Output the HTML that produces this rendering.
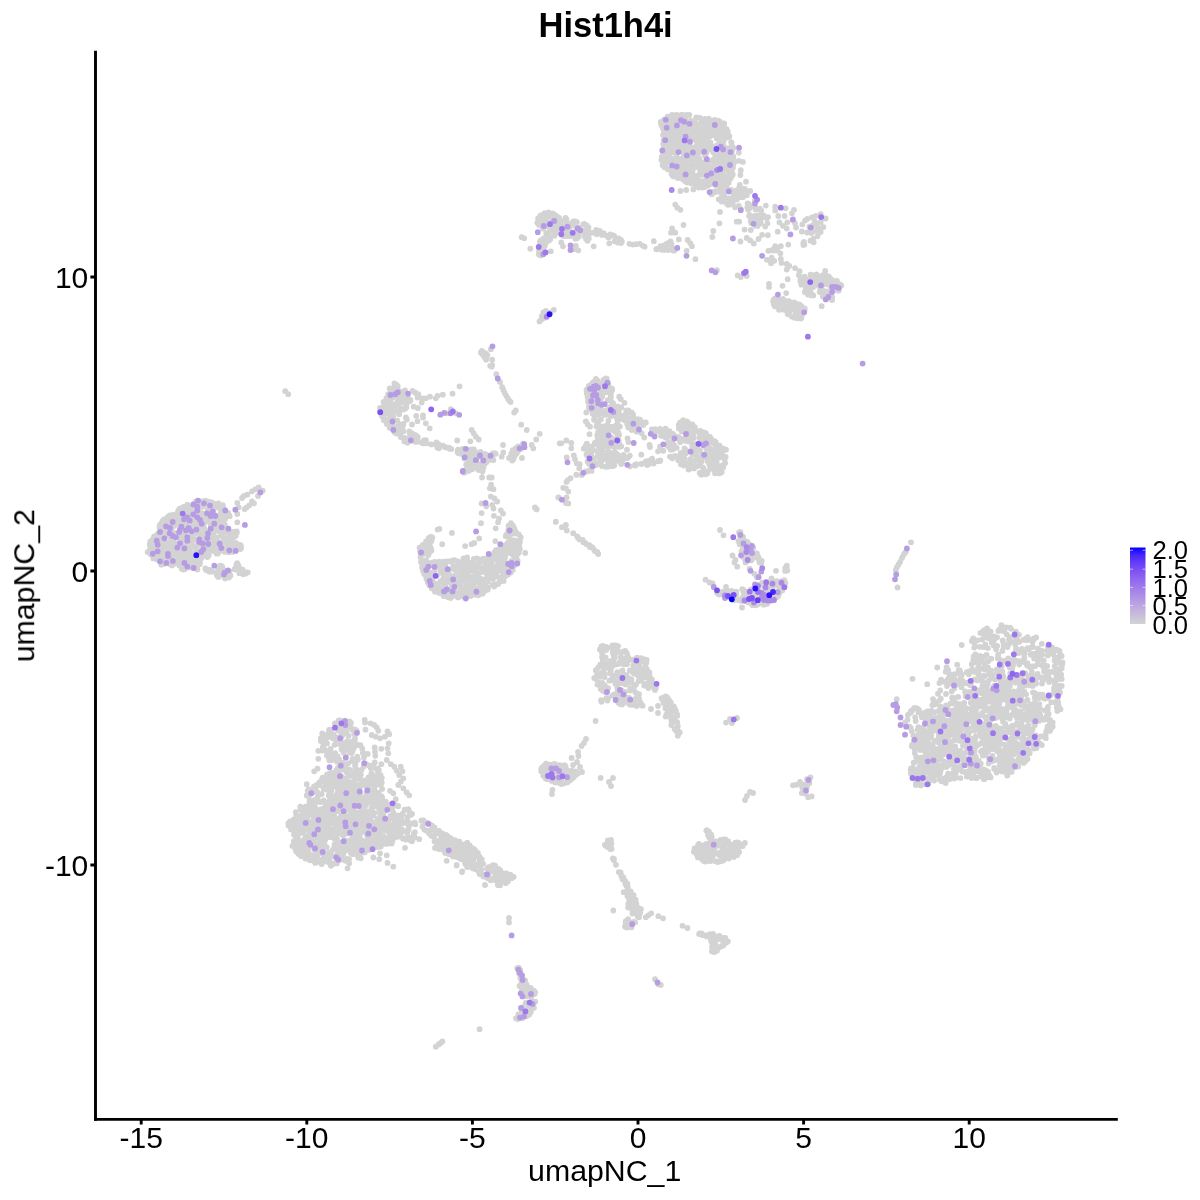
<!DOCTYPE html>
<html><head><meta charset="utf-8"><title>Hist1h4i</title>
<style>
html,body{margin:0;padding:0;background:#fff;}
body{width:1200px;height:1200px;overflow:hidden;font-family:"Liberation Sans",sans-serif;}
svg{display:block}
text{font-family:"Liberation Sans",sans-serif;fill:#000}
</style></head><body>
<svg width="1200" height="1200" viewBox="0 0 1200 1200">
<rect width="1200" height="1200" fill="#fff"/>
<defs><linearGradient id="cb" x1="0" y1="1" x2="0" y2="0">
<stop offset="0" stop-color="#D3D3D3"/><stop offset="0.1" stop-color="#CAC0D9"/><stop offset="0.2" stop-color="#C1AEDE"/><stop offset="0.3" stop-color="#B69CE3"/><stop offset="0.4" stop-color="#AA89E7"/><stop offset="0.5" stop-color="#9D77EC"/><stop offset="0.6" stop-color="#8E65F0"/><stop offset="0.7" stop-color="#7C51F4"/><stop offset="0.8" stop-color="#673DF8"/><stop offset="0.9" stop-color="#4926FB"/><stop offset="1" stop-color="#0000FF"/>
</linearGradient></defs>
<g fill="none" stroke-width="5.8" stroke-linecap="round">
<path d="M683.8 124.5h.01M700.4 141.6h.01M663.1 152.9h.01M664.0 119.7h.01M691.7 178.3h.01M668.2 130.3h.01M703.6 144.1h.01M725.6 135.5h.01M669.8 121.9h.01M682.6 177.5h.01M672.7 158.8h.01M708.5 142.1h.01M663.2 128.9h.01M711.7 146.5h.01M683.1 159.1h.01M693.9 136.4h.01M720.6 168.1h.01M677.6 158.2h.01M699.6 182.1h.01M715.5 135.4h.01M691.2 172.8h.01M670.4 151.4h.01M718.3 158.1h.01M726.9 137.5h.01M712.9 159.8h.01M703.8 148.8h.01M724.2 187.7h.01M695.6 165.4h.01M722.8 135.1h.01M688.7 165.7h.01M671.7 121.8h.01M668.6 132.2h.01M689.1 181.9h.01M664.8 148.2h.01M701.5 182.8h.01M722.5 181.3h.01M680.3 145.6h.01M672.3 131.0h.01M676.8 151.1h.01M704.6 133.4h.01M687.4 157.6h.01M733.0 167.5h.01M698.8 161.7h.01M728.8 174.6h.01M726.9 176.0h.01M689.2 144.3h.01M666.6 163.0h.01M674.9 125.4h.01M685.1 116.7h.01M666.5 141.4h.01M706.5 124.3h.01M678.2 140.1h.01M687.0 122.3h.01M694.9 151.0h.01M665.3 120.6h.01M685.3 133.6h.01M723.3 125.3h.01M699.8 124.2h.01M726.0 167.9h.01M678.9 141.7h.01M671.6 173.9h.01M700.2 174.5h.01M684.3 130.3h.01M725.2 176.7h.01M722.5 171.4h.01M676.3 153.7h.01M686.3 114.8h.01M678.8 167.6h.01M733.3 148.1h.01M675.8 130.6h.01M673.9 128.8h.01M707.3 184.1h.01M724.2 150.7h.01M709.6 176.1h.01M665.2 165.1h.01M717.1 150.5h.01M672.5 175.3h.01M684.5 176.2h.01M715.2 126.0h.01M668.5 124.5h.01M729.2 176.7h.01M685.9 156.2h.01M699.7 186.8h.01M692.4 181.9h.01M723.1 129.3h.01M678.2 135.8h.01M678.8 145.8h.01M686.2 149.0h.01M704.1 184.5h.01M697.7 154.8h.01M692.9 127.1h.01M672.0 150.2h.01M715.2 156.8h.01M684.0 153.8h.01M701.9 174.9h.01M666.8 157.1h.01M718.9 152.9h.01M702.4 173.0h.01M729.8 147.8h.01M706.4 152.7h.01M698.6 167.6h.01M693.9 154.9h.01M713.2 182.3h.01M702.3 187.6h.01M724.2 123.4h.01M668.0 147.7h.01M664.2 131.7h.01M719.8 183.9h.01M670.6 169.5h.01M710.1 123.9h.01M689.7 151.3h.01M671.2 146.8h.01M698.8 139.5h.01M673.8 137.8h.01M701.8 147.6h.01M666.7 133.6h.01M679.7 122.8h.01M722.5 133.1h.01M703.1 168.2h.01M708.1 176.3h.01M694.0 139.5h.01M699.7 131.5h.01M667.1 125.3h.01M682.9 136.8h.01M717.9 135.6h.01M697.6 126.7h.01M722.5 146.9h.01M697.2 178.9h.01M689.3 152.8h.01M685.3 178.7h.01M713.8 163.1h.01M690.2 140.2h.01M662.8 122.8h.01M678.5 125.5h.01M726.6 165.9h.01M680.6 131.8h.01M681.4 149.1h.01M682.7 140.9h.01M695.6 152.5h.01M674.2 152.7h.01M665.6 144.3h.01M682.3 131.0h.01M704.3 154.6h.01M717.2 164.8h.01M689.0 138.5h.01M715.1 163.7h.01M728.2 162.4h.01M715.9 177.1h.01M669.4 154.2h.01M721.4 178.3h.01M711.9 167.7h.01M676.5 115.0h.01M668.9 141.2h.01M702.2 162.5h.01M707.5 166.7h.01M720.9 172.0h.01M716.1 132.6h.01M664.4 133.6h.01M715.5 128.8h.01M697.1 142.9h.01M696.0 166.9h.01M718.5 161.6h.01M708.8 118.7h.01M670.1 132.7h.01M716.6 136.7h.01M711.3 135.6h.01M698.9 149.5h.01M695.0 121.9h.01M693.7 133.9h.01M675.0 158.8h.01M722.6 153.0h.01M727.8 168.5h.01M669.5 139.9h.01M683.2 179.4h.01M730.9 169.2h.01M729.0 135.6h.01M687.6 143.8h.01M686.7 146.6h.01M680.0 116.3h.01M678.0 133.6h.01M732.0 156.2h.01M715.8 148.4h.01M695.4 139.8h.01M681.8 171.3h.01M709.8 136.4h.01M702.1 143.9h.01M671.6 125.4h.01M697.4 130.0h.01M693.7 123.6h.01M673.6 119.7h.01M685.3 119.7h.01M703.0 183.1h.01M717.1 145.4h.01M690.9 154.2h.01M726.0 129.7h.01M689.8 148.0h.01M728.5 150.2h.01M709.1 173.4h.01M694.3 156.4h.01M708.3 168.1h.01M667.3 118.1h.01M699.5 158.9h.01M688.9 130.3h.01M733.5 163.8h.01M676.9 132.2h.01M697.5 166.2h.01M691.4 133.0h.01M685.0 146.0h.01M711.9 128.3h.01M722.6 130.9h.01M675.8 173.0h.01M676.0 145.7h.01M670.0 143.8h.01M669.6 116.6h.01M663.2 143.8h.01M728.7 182.8h.01M710.5 142.6h.01M680.4 140.5h.01M673.6 141.5h.01M690.6 177.1h.01M716.9 184.0h.01M733.4 161.6h.01M679.0 169.5h.01M683.3 134.4h.01M730.1 163.0h.01M688.7 132.5h.01M692.1 151.8h.01M722.8 174.0h.01M706.0 138.6h.01M674.0 172.4h.01M677.9 117.7h.01M679.2 119.2h.01M666.1 152.2h.01M714.0 148.1h.01M717.0 179.9h.01M710.4 122.1h.01M724.2 135.9h.01M702.8 142.2h.01M703.7 138.5h.01M721.7 164.5h.01M695.6 177.7h.01M724.2 185.3h.01M667.9 127.6h.01M731.2 142.1h.01M726.2 148.2h.01M678.9 174.4h.01M705.1 161.8h.01M675.5 141.8h.01M669.6 128.7h.01M678.5 160.2h.01M709.5 128.7h.01M682.9 128.7h.01M720.7 156.1h.01M689.4 156.3h.01M671.3 167.8h.01M690.6 135.0h.01M682.9 157.6h.01M687.0 128.2h.01M690.3 182.8h.01M694.5 125.4h.01M708.6 184.9h.01M665.5 162.0h.01M687.5 152.6h.01M669.9 135.0h.01M674.0 122.6h.01M719.9 130.2h.01M690.1 179.9h.01M723.3 127.1h.01M675.6 144.3h.01M699.0 143.0h.01M715.2 183.9h.01M661.8 157.3h.01M705.4 156.3h.01M707.5 136.9h.01M691.4 158.9h.01M691.8 164.9h.01M693.4 147.4h.01M718.2 174.6h.01M715.8 174.4h.01M720.1 186.6h.01M663.7 140.4h.01M717.6 125.1h.01M722.3 123.9h.01M697.8 185.7h.01M674.8 133.4h.01M698.1 137.9h.01M711.6 183.8h.01M667.5 154.7h.01M726.7 156.7h.01M707.7 143.9h.01M720.9 133.6h.01M686.7 173.4h.01M704.3 165.3h.01M661.2 124.4h.01M706.7 146.9h.01M698.6 183.8h.01M704.6 128.7h.01M707.3 150.3h.01M677.6 124.4h.01M689.9 133.5h.01M702.5 140.4h.01M709.0 147.8h.01M731.8 170.9h.01M690.3 131.4h.01M674.1 160.9h.01M698.1 163.6h.01M719.7 169.4h.01M676.2 120.9h.01M684.8 172.2h.01M712.8 179.8h.01M714.1 133.7h.01M720.1 154.1h.01M679.3 163.6h.01M678.9 131.3h.01M716.8 138.5h.01M695.2 179.3h.01M692.7 170.2h.01M703.1 137.0h.01M675.1 162.1h.01M685.5 123.8h.01M713.0 171.1h.01M663.7 159.5h.01M686.9 177.6h.01M722.6 183.4h.01M666.9 128.9h.01M708.1 178.2h.01M707.9 135.4h.01M717.7 128.8h.01M683.5 146.2h.01M680.6 169.5h.01M687.3 138.0h.01M725.1 161.7h.01M692.6 174.0h.01M685.6 168.6h.01M700.6 129.7h.01M696.9 175.9h.01M673.0 151.9h.01M680.7 129.6h.01M713.2 152.2h.01M713.0 175.1h.01M707.6 140.8h.01M728.9 152.4h.01M676.8 149.2h.01M700.1 172.5h.01M685.8 138.5h.01M710.3 171.5h.01M668.4 149.3h.01M727.7 131.4h.01M677.9 138.5h.01M684.2 127.6h.01M666.5 143.1h.01M673.9 163.3h.01M688.9 115.2h.01M689.7 175.5h.01M669.6 160.5h.01M690.2 171.5h.01M725.1 166.6h.01M683.0 162.5h.01M666.2 145.9h.01M707.7 132.4h.01M691.6 148.7h.01M672.8 164.6h.01M719.3 143.4h.01M732.0 153.8h.01M700.8 169.6h.01M675.0 167.0h.01M689.2 173.2h.01M691.4 168.1h.01M676.1 171.5h.01M675.6 176.3h.01M721.8 163.0h.01M686.1 163.3h.01M701.4 122.5h.01M723.7 140.7h.01M725.0 133.8h.01M682.1 150.7h.01M692.0 163.2h.01M709.8 132.4h.01M666.5 123.9h.01M676.8 174.3h.01M706.1 174.7h.01M720.1 179.3h.01M701.9 133.5h.01M700.7 181.2h.01M710.5 179.4h.01M708.3 163.1h.01M698.4 151.1h.01M685.0 181.1h.01M687.1 150.3h.01M675.0 147.1h.01M691.5 156.6h.01M723.2 144.6h.01M697.9 134.1h.01M684.4 137.7h.01M730.5 160.9h.01M706.7 162.4h.01M710.7 148.9h.01M718.1 120.6h.01M672.7 115.4h.01M719.1 185.2h.01M661.6 122.0h.01M721.8 158.3h.01M704.8 187.1h.01M690.8 120.6h.01M714.7 131.8h.01M715.9 127.4h.01M714.3 180.6h.01M696.5 117.3h.01M692.8 166.4h.01M707.7 145.8h.01M732.4 174.9h.01M713.5 178.3h.01M684.5 160.7h.01M705.5 137.1h.01M688.0 167.0h.01M705.6 183.8h.01M703.2 134.3h.01M706.0 166.4h.01M694.9 128.9h.01M678.4 172.3h.01M720.4 149.1h.01M727.7 154.0h.01M695.8 159.4h.01M720.1 124.9h.01M705.2 140.0h.01M726.2 151.2h.01M719.4 146.4h.01M722.5 189.2h.01M678.4 115.5h.01M674.2 126.9h.01M705.3 144.1h.01M704.7 172.8h.01M666.8 138.3h.01M696.1 125.9h.01M726.3 183.2h.01M669.5 148.1h.01M675.9 117.0h.01M724.1 139.1h.01M710.8 129.3h.01M695.8 135.3h.01M678.7 128.5h.01M666.2 135.5h.01M721.6 139.6h.01M723.6 154.4h.01M673.1 147.1h.01M703.2 123.5h.01M714.1 128.2h.01M706.4 168.8h.01M674.3 117.7h.01M724.3 181.3h.01M726.7 133.7h.01M687.2 125.5h.01M687.5 159.8h.01M693.4 153.5h.01M668.0 169.4h.01M683.6 169.1h.01M678.1 177.5h.01M713.4 120.7h.01M726.5 169.6h.01M697.1 152.4h.01M690.2 123.4h.01M704.8 181.0h.01M670.0 158.1h.01M688.9 146.0h.01M719.2 139.4h.01M721.4 185.1h.01M700.0 118.0h.01M731.7 162.9h.01M708.7 133.7h.01M700.9 186.1h.01M699.2 147.0h.01M682.4 164.0h.01M667.9 159.8h.01M679.5 149.6h.01M668.2 123.0h.01M665.4 156.0h.01M703.1 164.3h.01M674.3 169.0h.01M725.9 131.5h.01M702.0 151.6h.01M681.6 173.9h.01M670.9 117.8h.01M686.1 166.2h.01M706.7 180.1h.01M716.3 171.7h.01M703.2 145.8h.01M719.8 182.0h.01M706.0 142.7h.01M693.9 148.9h.01M697.6 147.8h.01M660.8 122.0h.01M664.2 119.8h.01M667.6 116.6h.01M672.1 114.8h.01M675.9 115.5h.01M681.9 114.7h.01M685.7 115.9h.01M689.3 114.8h.01M696.1 117.6h.01M704.7 118.9h.01M708.9 119.7h.01M714.7 120.0h.01M719.5 121.4h.01M722.7 123.4h.01M724.0 125.0h.01M726.5 129.1h.01M727.7 131.4h.01M729.3 136.5h.01M731.5 142.7h.01M732.9 147.1h.01M732.3 149.9h.01M733.3 156.3h.01M733.3 159.5h.01M734.3 162.0h.01M731.9 169.6h.01M732.8 174.4h.01M730.8 178.3h.01M728.4 181.0h.01M726.7 187.6h.01M726.0 188.7h.01M722.0 188.1h.01M716.3 185.7h.01M707.7 185.7h.01M703.4 186.2h.01M698.7 187.6h.01M696.1 185.1h.01M691.4 183.5h.01M687.2 182.6h.01M682.7 179.1h.01M678.0 178.1h.01M673.9 176.6h.01M672.7 175.7h.01M667.9 169.0h.01M664.5 167.3h.01M662.6 165.2h.01M661.4 159.9h.01M661.9 156.7h.01M664.0 147.3h.01M664.1 140.4h.01M663.0 134.9h.01M662.0 126.3h.01M661.0 122.3h.01M717.9 191.5h.01M740.7 193.9h.01M733.4 195.0h.01M732.8 201.8h.01M759.9 208.7h.01M722.0 195.1h.01M735.3 206.9h.01M739.5 187.1h.01M738.0 195.0h.01M745.2 193.7h.01M713.7 191.6h.01M728.0 204.8h.01M736.4 190.4h.01M747.5 191.4h.01M742.1 189.9h.01M736.9 199.6h.01M729.8 202.9h.01M726.3 203.1h.01M728.5 198.3h.01M724.1 195.5h.01M757.3 208.9h.01M715.8 191.8h.01M731.3 203.0h.01M743.3 189.0h.01M749.1 204.5h.01M754.9 200.4h.01M732.6 203.7h.01M754.6 206.4h.01M746.9 195.2h.01M749.8 207.9h.01M743.2 197.0h.01M732.2 198.7h.01M747.3 207.3h.01M723.0 199.7h.01M738.6 191.0h.01M711.8 194.2h.01M747.6 203.3h.01M737.0 196.7h.01M738.8 205.9h.01M741.6 197.2h.01M711.9 191.9h.01M715.0 192.3h.01M723.5 191.9h.01M731.3 189.8h.01M742.0 189.6h.01M745.9 191.4h.01M755.5 198.6h.01M756.2 200.3h.01M759.8 209.0h.01M761.3 210.5h.01M755.7 209.5h.01M748.1 209.4h.01M740.8 209.2h.01M735.1 207.3h.01M730.0 204.6h.01M721.6 201.6h.01M718.7 199.3h.01M712.4 193.0h.01M711.5 194.2h.01M754.9 215.8h.01M766.9 217.9h.01M755.9 221.5h.01M755.9 225.9h.01M760.7 222.7h.01M758.9 220.7h.01M750.9 217.6h.01M763.6 215.5h.01M757.6 215.9h.01M753.9 223.3h.01M755.2 219.8h.01M760.6 218.4h.01M754.2 221.8h.01M762.6 217.6h.01M749.6 214.8h.01M759.0 215.2h.01M763.1 216.0h.01M768.0 217.1h.01M766.5 217.9h.01M759.8 223.7h.01M757.6 225.9h.01M751.3 223.0h.01M750.8 221.2h.01M749.1 216.0h.01M738.8 160.8h.01M742.9 161.9h.01M740.8 170.2h.01M740.4 175.0h.01M746.0 181.7h.01M739.8 184.8h.01M745.0 189.0h.01M750.2 191.0h.01M738.8 152.5h.01M680.4 191.0h.01M686.2 190.0h.01M693.3 189.4h.01M675.2 204.6h.01M677.3 207.7h.01M680.4 209.8h.01M683.5 225.0h.01M672.1 228.5h.01M671.0 232.7h.01M675.2 232.7h.01M720.0 211.9h.01M719.4 223.3h.01M713.3 231.0h.01M712.3 236.9h.01M736.7 221.7h.01M739.2 221.7h.01M744.6 229.6h.01M750.8 230.0h.01M746.7 237.9h.01M750.2 240.4h.01M753.8 243.5h.01M740.4 241.5h.01M758.5 239.0h.01M762.1 234.8h.01M767.9 235.2h.01M765.2 226.5h.01M767.5 223.3h.01M777.7 231.7h.01M765.8 205.6h.01M775.2 206.7h.01M775.2 210.4h.01M785.6 208.3h.01M794.0 209.8h.01M791.9 213.3h.01M778.3 216.0h.01M784.6 216.0h.01M779.4 222.3h.01M782.9 225.8h.01M786.7 228.5h.01M787.3 222.3h.01M795.0 223.3h.01M796.0 227.5h.01M792.9 220.2h.01M803.3 243.1h.01M804.4 244.6h.01M788.3 244.6h.01M780.8 246.2h.01M802.3 224.4h.01M805.0 220.6h.01M807.2 219.0h.01M812.0 217.4h.01M815.8 215.8h.01M820.7 214.1h.01M825.6 218.5h.01M823.4 227.1h.01M820.7 222.2h.01M816.9 223.3h.01M814.8 221.7h.01M818.0 227.7h.01M820.7 232.0h.01M815.8 230.9h.01M811.5 233.1h.01M807.2 232.5h.01M801.8 231.5h.01M817.5 236.3h.01M813.1 239.0h.01M810.4 240.7h.01M813.7 242.3h.01M803.9 241.8h.01M803.4 245.0h.01M809.3 226.6h.01M812.6 225.5h.01M768.3 250.8h.01M774.2 248.3h.01M777.3 250.4h.01M780.4 253.5h.01M780.8 258.8h.01M781.5 262.9h.01M786.7 264.0h.01M789.2 266.0h.01M795.0 268.1h.01M799.6 271.2h.01M798.8 275.0h.01M786.7 269.6h.01M771.7 257.7h.01M774.2 260.8h.01M771.0 263.3h.01M766.9 259.8h.01M774.2 250.4h.01M771.0 250.4h.01M775.2 246.2h.01M769.0 283.8h.01M769.0 286.9h.01M782.5 285.8h.01M786.2 293.1h.01M787.7 279.2h.01M821.7 306.2h.01M825.2 270.8h.01M822.3 279.9h.01M820.3 289.0h.01M807.8 289.6h.01M816.5 274.5h.01M823.2 293.9h.01M815.7 277.5h.01M808.3 283.5h.01M807.2 281.4h.01M830.7 285.2h.01M838.5 289.3h.01M813.3 295.4h.01M829.4 297.2h.01M802.9 283.6h.01M825.8 275.3h.01M823.2 296.5h.01M829.2 280.0h.01M806.3 285.8h.01M836.9 289.9h.01M805.9 289.0h.01M810.9 293.0h.01M813.3 276.9h.01M829.4 284.2h.01M819.7 277.1h.01M837.2 284.2h.01M838.6 290.7h.01M800.7 282.2h.01M805.1 283.2h.01M815.5 283.0h.01M810.1 287.4h.01M809.5 289.5h.01M827.2 291.5h.01M814.3 280.8h.01M811.5 295.4h.01M832.2 287.7h.01M827.3 282.9h.01M823.2 284.6h.01M820.0 283.4h.01M808.6 279.4h.01M818.6 285.8h.01M824.1 281.4h.01M811.4 281.6h.01M831.6 288.9h.01M804.9 280.4h.01M830.5 278.9h.01M825.7 298.4h.01M827.9 278.2h.01M827.9 284.5h.01M829.3 282.5h.01M813.0 287.2h.01M825.5 280.1h.01M826.2 294.2h.01M812.7 275.1h.01M804.5 276.6h.01M835.7 285.1h.01M822.7 290.1h.01M823.4 292.1h.01M825.7 282.3h.01M832.3 280.1h.01M830.9 295.3h.01M833.9 281.6h.01M818.6 280.7h.01M819.7 292.1h.01M833.9 283.2h.01M823.5 277.8h.01M832.1 300.1h.01M800.8 278.2h.01M810.5 274.6h.01M822.6 275.5h.01M828.9 276.6h.01M836.9 280.9h.01M839.9 284.4h.01M841.3 285.4h.01M837.8 290.6h.01M832.3 297.4h.01M831.5 299.6h.01M822.8 296.5h.01M811.8 295.0h.01M808.1 294.7h.01M804.8 292.0h.01M801.4 284.7h.01M800.3 280.4h.01M798.2 316.6h.01M780.6 303.8h.01M792.4 307.0h.01M773.7 299.6h.01M796.9 318.2h.01M788.9 301.2h.01M775.1 306.4h.01M783.3 308.1h.01M780.2 299.8h.01M785.3 309.7h.01M795.8 312.2h.01M790.4 309.5h.01M785.0 303.5h.01M784.5 305.2h.01M784.1 301.5h.01M777.4 298.2h.01M801.6 315.6h.01M796.0 303.7h.01M794.2 309.5h.01M802.0 308.5h.01M797.9 305.1h.01M789.7 311.2h.01M787.7 314.0h.01M789.6 307.6h.01M804.8 309.0h.01M787.3 311.9h.01M801.0 318.5h.01M775.8 301.8h.01M773.9 304.5h.01M800.1 308.8h.01M796.1 306.9h.01M782.2 301.5h.01M793.9 317.6h.01M777.6 306.2h.01M799.7 311.3h.01M786.6 304.8h.01M775.1 298.4h.01M776.7 298.1h.01M783.0 298.9h.01M786.9 301.1h.01M789.6 302.0h.01M794.2 302.5h.01M799.3 304.3h.01M801.2 305.8h.01M804.7 309.9h.01M804.6 308.3h.01M801.5 317.8h.01M799.6 318.3h.01M795.8 316.8h.01M791.6 316.4h.01M788.9 313.7h.01M782.7 309.6h.01M779.0 309.8h.01M774.8 305.9h.01M773.1 301.6h.01M621.0 240.0h.01M621.0 243.1h.01M629.4 243.8h.01M632.9 244.6h.01M636.2 244.2h.01M639.8 243.8h.01M642.9 245.8h.01M644.6 246.7h.01M653.8 241.2h.01M678.8 239.4h.01M687.7 240.0h.01M690.2 243.1h.01M691.9 246.2h.01M686.7 250.8h.01M695.4 259.2h.01M716.9 270.2h.01M737.7 275.4h.01M740.8 277.1h.01M746.7 276.0h.01M665.7 246.9h.01M663.4 246.0h.01M668.2 244.6h.01M666.9 245.6h.01M670.2 243.9h.01M661.8 249.7h.01M670.5 241.4h.01M672.6 248.1h.01M657.1 249.0h.01M660.6 246.2h.01M664.4 245.2h.01M667.2 243.4h.01M671.0 243.1h.01M671.5 244.2h.01M674.5 250.6h.01M672.9 250.5h.01M668.0 250.1h.01M663.8 249.9h.01M657.0 249.3h.01M656.3 249.2h.01M599.7 230.8h.01M560.3 226.8h.01M601.7 234.0h.01M588.0 236.1h.01M542.1 216.8h.01M564.1 231.7h.01M587.8 232.3h.01M542.9 241.3h.01M546.0 237.9h.01M565.9 228.1h.01M547.6 214.5h.01M578.8 235.9h.01M548.9 235.9h.01M579.8 227.7h.01M552.0 229.5h.01M552.5 216.1h.01M548.0 222.8h.01M552.0 220.6h.01M577.3 234.0h.01M542.5 244.7h.01M565.6 217.8h.01M621.1 242.5h.01M555.1 219.6h.01M575.4 221.4h.01M564.4 220.3h.01M542.1 223.1h.01M597.3 231.4h.01M545.0 243.0h.01M550.7 223.1h.01M569.7 234.2h.01M556.7 227.0h.01M611.8 234.8h.01M541.0 240.2h.01M539.3 250.3h.01M583.2 230.3h.01M559.1 217.8h.01M546.8 234.9h.01M561.0 228.5h.01M551.0 225.0h.01M543.9 222.6h.01M569.6 228.6h.01M608.6 237.4h.01M558.1 221.8h.01M544.2 224.8h.01M546.2 226.4h.01M558.7 220.3h.01M554.3 214.5h.01M546.7 223.3h.01M544.1 220.8h.01M607.0 236.0h.01M586.8 229.3h.01M570.4 223.7h.01M580.6 231.2h.01M539.8 219.9h.01M548.9 240.6h.01M538.1 218.5h.01M543.4 215.2h.01M545.7 215.3h.01M584.9 234.6h.01M553.0 222.2h.01M614.2 235.8h.01M540.6 225.6h.01M543.5 238.6h.01M545.5 219.7h.01M575.2 238.3h.01M576.5 229.3h.01M596.4 232.8h.01M554.8 229.0h.01M617.9 240.9h.01M543.7 248.0h.01M583.3 224.1h.01M567.2 224.6h.01M540.9 215.5h.01M556.9 224.5h.01M565.5 225.7h.01M556.6 229.9h.01M567.2 236.0h.01M542.2 220.3h.01M550.0 231.2h.01M556.5 222.4h.01M621.0 241.1h.01M550.2 214.8h.01M591.9 232.8h.01M554.9 231.3h.01M544.8 213.3h.01M566.7 232.7h.01M555.7 218.2h.01M574.9 225.4h.01M555.2 234.1h.01M563.1 229.7h.01M557.4 232.0h.01M546.6 221.6h.01M547.6 216.6h.01M538.8 254.2h.01M560.2 224.0h.01M572.0 235.6h.01M541.0 253.4h.01M555.5 227.7h.01M540.8 245.8h.01M590.3 232.8h.01M538.6 219.6h.01M540.1 216.2h.01M544.4 213.4h.01M548.4 212.4h.01M552.6 213.4h.01M556.8 216.2h.01M565.5 218.4h.01M566.5 219.5h.01M573.5 221.5h.01M576.9 222.1h.01M584.3 223.8h.01M586.8 225.4h.01M588.5 227.5h.01M596.2 229.9h.01M599.0 231.2h.01M603.6 233.2h.01M610.2 234.5h.01M618.7 238.3h.01M621.3 240.6h.01M621.8 241.6h.01M621.6 242.2h.01M617.6 242.5h.01M614.7 241.2h.01M609.2 236.6h.01M602.0 234.9h.01M596.6 234.2h.01M588.8 238.5h.01M587.2 238.2h.01M586.1 239.0h.01M585.0 236.8h.01M578.9 236.6h.01M576.7 238.4h.01M575.4 238.8h.01M569.9 236.0h.01M564.1 236.2h.01M562.8 235.7h.01M554.5 235.7h.01M550.2 239.2h.01M545.7 243.3h.01M544.6 246.1h.01M542.8 252.6h.01M541.0 255.4h.01M539.9 254.6h.01M539.4 254.7h.01M539.0 251.4h.01M540.4 243.8h.01M539.9 241.6h.01M544.1 238.2h.01M546.2 233.2h.01M542.8 228.6h.01M538.8 224.8h.01M537.3 222.8h.01M521.7 237.2h.01M524.2 238.3h.01M530.3 248.7h.01M550.8 251.3h.01M561.3 242.5h.01M563.0 246.3h.01M575.8 245.8h.01M578.3 250.3h.01M575.0 249.2h.01M593.7 246.3h.01M609.2 243.3h.01M587.5 240.8h.01M539.5 321.4h.01M541.4 319.4h.01M544.2 317.9h.01M546.3 315.1h.01M548.3 313.2h.01M550.6 312.5h.01M553.8 309.8h.01M543.3 312.5h.01M545.8 310.8h.01M541.7 316.3h.01M550.0 313.3h.01M547.5 315.3h.01M390.7 401.1h.01M399.0 414.3h.01M392.9 426.8h.01M400.0 430.6h.01M393.9 411.9h.01M388.2 423.7h.01M386.9 401.3h.01M397.8 426.5h.01M382.0 410.1h.01M404.6 398.7h.01M397.3 420.6h.01M396.1 386.3h.01M394.2 386.9h.01M400.1 434.3h.01M391.9 388.7h.01M409.0 438.1h.01M389.8 410.7h.01M388.0 397.2h.01M391.2 391.9h.01M385.5 407.7h.01M412.4 436.2h.01M415.7 441.9h.01M393.0 404.9h.01M404.5 437.8h.01M409.6 433.0h.01M383.2 415.4h.01M413.5 437.2h.01M396.9 402.6h.01M392.0 396.8h.01M385.9 410.5h.01M394.6 432.3h.01M408.7 400.8h.01M398.1 407.6h.01M386.3 404.1h.01M402.6 408.6h.01M381.4 414.4h.01M392.7 395.1h.01M401.3 431.9h.01M415.7 438.6h.01M403.1 397.5h.01M389.2 407.8h.01M399.3 410.9h.01M388.4 414.0h.01M385.0 419.5h.01M402.4 427.1h.01M407.7 398.3h.01M413.1 440.2h.01M394.9 420.5h.01M398.9 392.6h.01M397.9 409.1h.01M392.5 408.1h.01M392.5 425.2h.01M394.2 390.6h.01M404.3 439.9h.01M394.6 408.6h.01M390.2 416.4h.01M406.3 402.7h.01M394.6 392.5h.01M391.2 411.6h.01M398.6 404.2h.01M391.6 405.7h.01M403.4 431.3h.01M388.6 404.6h.01M389.2 402.2h.01M408.1 439.2h.01M403.4 424.0h.01M394.1 397.1h.01M384.0 403.4h.01M400.0 424.5h.01M403.0 402.5h.01M384.9 405.4h.01M405.9 417.4h.01M406.7 401.3h.01M396.3 427.4h.01M386.6 422.8h.01M400.5 428.3h.01M397.8 386.4h.01M398.8 402.4h.01M397.6 431.3h.01M387.4 410.6h.01M383.3 411.0h.01M398.5 398.0h.01M393.1 416.4h.01M389.6 421.2h.01M406.6 404.1h.01M400.6 436.2h.01M403.2 400.1h.01M386.2 413.4h.01M380.0 408.0h.01M383.6 401.8h.01M386.4 398.1h.01M388.2 394.1h.01M389.7 388.5h.01M394.4 383.5h.01M396.7 384.8h.01M396.8 386.3h.01M400.4 391.7h.01M402.3 394.2h.01M409.8 399.4h.01M410.2 401.0h.01M410.5 400.1h.01M406.4 407.3h.01M405.1 408.7h.01M403.4 409.5h.01M399.2 414.3h.01M405.8 417.8h.01M406.8 419.3h.01M406.9 419.6h.01M403.3 424.8h.01M409.3 431.3h.01M412.0 433.2h.01M415.6 435.1h.01M417.7 437.0h.01M417.5 439.6h.01M417.9 441.7h.01M411.3 440.8h.01M407.4 442.7h.01M404.5 441.4h.01M400.6 437.0h.01M396.3 433.4h.01M389.7 427.8h.01M386.9 423.9h.01M383.9 420.2h.01M382.2 416.2h.01M379.7 411.6h.01M405.0 390.3h.01M412.5 390.8h.01M415.0 392.5h.01M418.3 394.2h.01M417.5 397.5h.01M422.5 398.3h.01M425.8 398.3h.01M430.0 396.7h.01M435.8 398.3h.01M437.5 395.8h.01M442.8 394.7h.01M452.5 393.7h.01M459.5 386.3h.01M421.7 402.5h.01M413.7 406.7h.01M417.8 408.0h.01M416.2 415.8h.01M423.0 415.3h.01M423.0 417.5h.01M417.5 421.2h.01M412.0 424.5h.01M425.8 423.3h.01M429.7 428.3h.01M424.5 441.8h.01M436.5 442.3h.01M426.8 443.2h.01M436.3 444.4h.01M443.0 445.7h.01M423.0 442.1h.01M449.0 447.7h.01M423.9 440.3h.01M425.9 440.2h.01M437.3 443.6h.01M438.3 444.0h.01M447.4 447.7h.01M450.0 448.9h.01M451.2 449.0h.01M445.2 447.2h.01M438.9 448.3h.01M437.3 447.5h.01M431.4 444.4h.01M423.3 443.4h.01M422.3 443.1h.01M457.2 440.5h.01M470.3 441.3h.01M471.7 430.0h.01M473.7 433.3h.01M475.8 436.7h.01M478.7 439.5h.01M467.0 468.3h.01M477.4 453.1h.01M471.3 454.3h.01M472.4 466.5h.01M490.5 459.9h.01M474.6 456.3h.01M468.3 456.3h.01M464.0 452.7h.01M484.3 464.4h.01M485.1 453.8h.01M477.7 465.4h.01M464.9 455.7h.01M486.9 460.1h.01M476.1 466.6h.01M492.6 458.6h.01M473.3 455.0h.01M461.8 454.0h.01M471.2 449.3h.01M472.2 463.2h.01M471.9 456.9h.01M488.0 455.5h.01M467.7 451.7h.01M479.9 455.2h.01M482.9 463.4h.01M480.4 456.8h.01M488.6 459.8h.01M471.5 452.5h.01M482.1 468.5h.01M471.8 469.2h.01M459.5 453.4h.01M487.6 458.7h.01M475.0 452.0h.01M473.7 460.6h.01M467.5 466.3h.01M476.4 456.7h.01M469.5 463.8h.01M483.4 461.3h.01M491.6 455.7h.01M470.6 457.6h.01M483.8 458.9h.01M476.5 459.6h.01M463.6 450.9h.01M483.0 466.1h.01M466.2 464.6h.01M468.6 461.9h.01M478.7 463.8h.01M464.6 458.7h.01M466.6 470.5h.01M463.8 472.0h.01M460.2 450.5h.01M467.7 454.0h.01M457.6 450.3h.01M462.7 449.0h.01M469.6 450.0h.01M473.9 449.4h.01M480.6 452.0h.01M485.3 455.0h.01M492.9 453.5h.01M494.6 453.2h.01M495.7 453.8h.01M495.3 453.4h.01M493.4 460.1h.01M491.9 459.8h.01M486.4 462.2h.01M483.4 467.7h.01M481.3 470.6h.01M482.7 470.5h.01M477.9 468.9h.01M472.2 469.2h.01M465.0 472.2h.01M463.6 470.9h.01M464.9 470.3h.01M466.8 464.7h.01M464.4 457.4h.01M458.2 453.1h.01M457.5 452.1h.01M458.1 449.7h.01M503.0 445.0h.01M503.3 452.5h.01M501.7 456.7h.01M482.0 477.5h.01M489.2 477.5h.01M491.7 477.5h.01M514.9 452.3h.01M511.0 458.4h.01M512.8 457.2h.01M511.2 453.7h.01M519.6 449.2h.01M515.9 449.2h.01M515.5 450.7h.01M514.8 455.7h.01M517.9 451.2h.01M518.2 446.3h.01M511.2 455.6h.01M512.8 450.1h.01M515.8 448.2h.01M523.0 443.7h.01M523.4 444.6h.01M523.8 446.6h.01M520.9 449.1h.01M516.5 453.5h.01M513.8 457.6h.01M513.2 459.6h.01M512.1 460.6h.01M509.0 457.9h.01M522.0 458.0h.01M531.7 445.0h.01M533.3 448.3h.01M536.2 439.5h.01M539.7 433.8h.01M526.7 430.0h.01M521.2 424.7h.01M514.2 412.5h.01M515.8 410.5h.01M486.7 356.8h.01M484.7 357.3h.01M480.9 352.5h.01M485.3 353.2h.01M481.4 352.7h.01M481.9 351.0h.01M487.3 354.8h.01M492.2 359.7h.01M492.1 365.1h.01M491.7 366.7h.01M490.2 365.8h.01M486.1 359.7h.01M484.0 356.4h.01M482.2 354.0h.01M490.8 349.2h.01M496.3 374.2h.01M500.0 382.0h.01M502.2 387.2h.01M503.3 390.0h.01M504.7 393.0h.01M506.3 395.8h.01M508.0 398.7h.01M509.5 400.8h.01M510.5 402.0h.01M535.0 507.5h.01M536.7 509.2h.01M555.8 521.7h.01M558.3 497.5h.01M559.7 443.3h.01M446.7 413.3h.01M450.8 409.2h.01M455.8 413.3h.01M482.1 477.3h.01M490.4 477.7h.01M491.1 484.7h.01M489.8 488.3h.01M493.5 489.2h.01M490.8 496.6h.01M494.4 498.4h.01M497.2 501.5h.01M481.6 503.4h.01M486.2 506.3h.01M492.2 504.8h.01M493.5 508.5h.01M500.8 510.3h.01M503.0 513.6h.01M481.6 513.1h.01M493.9 515.8h.01M499.0 518.6h.01M498.1 522.2h.01M481.0 523.2h.01M495.7 528.3h.01M482.5 471.5h.01M478.8 470.0h.01M464.2 472.8h.01M468.8 470.9h.01M516.9 540.9h.01M503.3 569.2h.01M485.7 585.0h.01M508.4 534.4h.01M444.7 569.6h.01M467.6 572.2h.01M456.9 575.9h.01M495.5 572.3h.01M459.8 565.8h.01M466.5 587.3h.01M442.8 579.6h.01M445.6 583.2h.01M456.3 584.1h.01M433.8 565.7h.01M506.8 546.7h.01M506.9 544.6h.01M508.2 550.3h.01M492.2 566.8h.01M510.9 530.4h.01M492.4 585.0h.01M490.7 564.3h.01M499.6 570.5h.01M480.6 593.9h.01M503.1 565.6h.01M451.8 594.4h.01M452.6 576.8h.01M499.4 555.9h.01M466.1 581.0h.01M482.7 584.9h.01M443.6 574.9h.01M452.7 596.1h.01M501.0 570.8h.01M518.0 553.4h.01M459.1 571.9h.01M423.3 554.1h.01M505.6 576.1h.01M479.2 566.7h.01M424.3 563.7h.01M494.5 584.2h.01M480.6 589.9h.01M511.8 540.2h.01M448.6 581.1h.01M474.7 594.5h.01M477.2 593.3h.01M420.5 557.1h.01M475.6 578.4h.01M473.6 576.6h.01M451.2 590.3h.01M491.7 562.6h.01M443.5 561.6h.01M476.3 582.1h.01M516.1 533.4h.01M506.1 552.1h.01M424.2 546.7h.01M449.4 576.3h.01M501.9 560.9h.01M432.5 585.8h.01M427.7 581.5h.01M452.0 586.9h.01M514.5 545.4h.01M489.5 575.0h.01M506.9 565.6h.01M499.5 581.5h.01M447.1 582.0h.01M466.6 585.4h.01M454.2 590.6h.01M443.4 573.3h.01M509.5 553.0h.01M500.6 577.4h.01M500.1 562.8h.01M447.2 579.4h.01M447.2 589.3h.01M484.7 558.7h.01M457.5 593.9h.01M516.4 556.3h.01M477.2 589.2h.01M484.5 579.5h.01M449.9 561.5h.01M466.8 593.2h.01M484.9 590.0h.01M503.8 550.3h.01M496.7 557.8h.01M501.8 578.7h.01M472.1 566.9h.01M442.3 582.6h.01M464.0 563.3h.01M424.4 573.7h.01M475.7 572.6h.01M495.1 570.3h.01M436.5 585.5h.01M465.2 577.5h.01M454.1 584.8h.01M480.2 572.6h.01M488.3 562.9h.01M464.3 589.7h.01M497.6 566.1h.01M458.3 581.8h.01M500.1 564.3h.01M497.1 559.4h.01M487.6 581.4h.01M494.7 573.8h.01M439.1 563.1h.01M480.4 578.5h.01M454.2 578.6h.01M427.6 540.5h.01M444.3 596.1h.01M505.5 545.1h.01M429.7 549.7h.01M443.8 566.5h.01M472.9 582.2h.01M476.6 558.3h.01M510.8 568.9h.01M510.9 523.1h.01M473.9 586.9h.01M454.4 560.2h.01M433.1 562.5h.01M435.8 583.8h.01M427.6 570.1h.01M508.2 530.5h.01M440.3 581.4h.01M467.0 594.8h.01M518.4 547.8h.01M496.4 568.3h.01M428.2 582.9h.01M515.8 551.1h.01M502.1 558.0h.01M508.0 574.4h.01M426.1 576.6h.01M494.1 568.7h.01M463.6 567.9h.01M487.5 566.9h.01M490.7 559.7h.01M471.4 584.4h.01M485.7 565.9h.01M511.2 561.2h.01M468.5 590.5h.01M490.9 578.6h.01M475.9 567.9h.01M453.7 586.2h.01M429.9 537.2h.01M428.7 578.1h.01M485.8 572.7h.01M479.5 559.8h.01M516.4 543.2h.01M492.8 557.0h.01M502.7 573.5h.01M467.3 591.5h.01M427.9 567.4h.01M430.3 538.7h.01M453.5 566.1h.01M451.9 568.7h.01M429.1 553.1h.01M483.1 571.3h.01M430.5 565.1h.01M482.6 592.2h.01M513.2 533.6h.01M512.6 554.3h.01M514.5 540.4h.01M510.7 549.1h.01M491.1 557.2h.01M504.2 564.3h.01M510.7 572.6h.01M444.4 588.0h.01M429.8 572.5h.01M438.4 584.7h.01M434.8 570.6h.01M486.7 561.1h.01M436.4 590.1h.01M467.6 564.6h.01M480.9 582.8h.01M428.8 575.2h.01M501.1 553.0h.01M433.8 573.0h.01M430.8 551.1h.01M475.5 564.4h.01M460.0 584.2h.01M426.7 546.7h.01M473.9 583.2h.01M509.7 546.1h.01M460.4 563.3h.01M428.1 576.7h.01M432.7 581.2h.01M505.1 557.2h.01M503.0 547.5h.01M451.3 561.3h.01M454.7 575.7h.01M460.0 589.1h.01M497.5 564.7h.01M473.2 564.6h.01M514.4 528.6h.01M432.0 574.0h.01M473.0 592.3h.01M496.2 552.2h.01M494.6 559.2h.01M501.6 549.4h.01M464.9 565.3h.01M502.3 562.6h.01M469.0 588.2h.01M494.0 586.3h.01M423.4 562.5h.01M449.1 574.1h.01M449.0 579.0h.01M490.1 577.4h.01M467.1 557.4h.01M466.5 569.6h.01M503.4 559.4h.01M513.2 546.7h.01M428.4 550.2h.01M518.3 540.6h.01M445.2 565.1h.01M455.4 566.5h.01M509.9 540.9h.01M461.3 595.7h.01M492.1 572.5h.01M515.1 562.9h.01M446.4 561.8h.01M488.0 587.6h.01M506.9 536.3h.01M474.0 566.3h.01M460.8 567.6h.01M431.3 540.8h.01M510.4 534.3h.01M442.4 567.3h.01M520.8 537.1h.01M428.8 538.2h.01M459.8 576.3h.01M451.6 583.9h.01M496.1 573.8h.01M481.9 580.9h.01M489.7 569.0h.01M440.9 570.7h.01M458.7 595.3h.01M463.4 572.4h.01M508.8 536.6h.01M424.3 544.8h.01M467.6 579.8h.01M472.9 570.9h.01M438.7 588.7h.01M455.1 569.9h.01M458.6 562.2h.01M488.4 570.7h.01M419.5 547.6h.01M504.8 561.6h.01M442.1 588.8h.01M430.1 546.3h.01M461.2 581.9h.01M501.9 566.8h.01M469.7 576.4h.01M495.9 576.5h.01M511.0 545.1h.01M427.7 545.2h.01M493.0 578.7h.01M508.6 570.8h.01M474.4 558.8h.01M513.3 566.5h.01M484.6 567.1h.01M442.0 592.2h.01M512.8 526.5h.01M505.2 550.8h.01M477.9 574.1h.01M446.7 571.5h.01M484.6 562.3h.01M440.5 567.6h.01M427.3 565.6h.01M479.5 562.7h.01M440.2 565.8h.01M492.2 559.4h.01M462.4 576.8h.01M445.2 573.8h.01M469.7 595.4h.01M470.1 562.7h.01M519.7 542.8h.01M431.4 536.9h.01M458.0 597.4h.01M463.7 566.3h.01M480.1 586.5h.01M496.0 550.2h.01M514.2 549.8h.01M446.5 591.7h.01M509.6 566.2h.01M508.4 532.4h.01M428.8 541.4h.01M471.1 569.0h.01M432.3 577.7h.01M424.7 551.4h.01M465.5 561.7h.01M462.1 594.2h.01M441.0 590.4h.01M421.0 561.6h.01M445.2 571.2h.01M500.9 581.2h.01M481.8 570.2h.01M440.9 572.5h.01M443.9 583.9h.01M442.6 565.5h.01M436.5 566.8h.01M489.2 567.1h.01M514.9 564.6h.01M514.2 557.8h.01M483.1 561.0h.01M465.0 587.0h.01M482.5 590.3h.01M509.0 563.7h.01M516.1 559.7h.01M487.2 577.0h.01M482.9 558.9h.01M436.7 575.9h.01M471.3 577.0h.01M507.6 543.0h.01M445.6 586.9h.01M474.6 580.8h.01M474.9 590.6h.01M424.8 549.0h.01M489.8 563.1h.01M425.3 560.4h.01M462.2 568.9h.01M510.2 524.9h.01M512.8 525.3h.01M513.3 527.0h.01M516.0 532.0h.01M518.8 534.4h.01M520.0 541.1h.01M519.2 546.5h.01M519.9 549.1h.01M518.8 552.5h.01M517.7 560.7h.01M514.8 565.1h.01M512.7 570.0h.01M509.9 572.5h.01M506.7 574.4h.01M501.8 579.7h.01M498.2 584.1h.01M494.2 586.6h.01M487.8 589.6h.01M485.2 590.7h.01M482.7 593.6h.01M478.2 595.2h.01M470.6 596.0h.01M467.4 595.6h.01M462.4 596.4h.01M457.8 597.1h.01M450.6 598.0h.01M447.7 597.0h.01M443.6 596.1h.01M439.1 592.9h.01M435.0 591.7h.01M431.8 588.4h.01M429.5 585.4h.01M427.8 582.2h.01M426.4 578.8h.01M424.2 574.0h.01M423.0 571.1h.01M422.0 567.6h.01M421.2 562.4h.01M421.4 559.9h.01M420.7 554.7h.01M420.1 551.3h.01M420.7 548.0h.01M422.8 544.8h.01M426.0 541.7h.01M429.3 538.2h.01M430.8 537.3h.01M432.4 537.7h.01M431.5 541.1h.01M431.0 548.7h.01M431.4 550.5h.01M428.4 555.1h.01M426.2 560.4h.01M431.1 562.9h.01M435.1 561.8h.01M439.2 561.7h.01M445.0 561.7h.01M447.8 561.4h.01M452.6 560.6h.01M457.9 561.4h.01M463.4 558.4h.01M466.9 558.7h.01M473.8 558.8h.01M478.5 559.2h.01M488.1 557.3h.01M490.8 555.9h.01M494.5 552.1h.01M497.8 549.6h.01M502.5 547.1h.01M508.6 543.0h.01M506.2 535.0h.01M505.8 536.3h.01M508.6 525.7h.01M437.6 529.6h.01M439.4 529.0h.01M451.9 532.9h.01M442.2 544.2h.01M465.1 546.1h.01M471.5 544.2h.01M474.2 543.0h.01M479.2 538.4h.01M495.3 541.1h.01M525.2 552.9h.01M503.6 580.9h.01M591.6 470.9h.01M587.0 471.5h.01M576.4 474.9h.01M570.5 478.2h.01M567.8 480.1h.01M566.5 481.9h.01M563.2 487.8h.01M565.9 488.3h.01M568.3 491.6h.01M558.6 497.5h.01M566.5 497.5h.01M565.9 503.0h.01M568.3 503.4h.01M534.8 507.6h.01M536.6 509.4h.01M555.8 521.9h.01M561.9 527.2h.01M565.9 525.0h.01M566.8 530.5h.01M573.2 533.2h.01M577.2 536.4h.01M578.0 537.7h.01M579.5 539.4h.01M582.7 540.0h.01M583.4 542.2h.01M585.3 542.8h.01M586.2 544.1h.01M589.3 545.1h.01M589.8 547.1h.01M592.1 547.2h.01M593.7 549.1h.01M595.1 551.2h.01M597.2 551.9h.01M598.2 554.0h.01M602.4 389.7h.01M608.4 420.6h.01M594.6 417.7h.01M626.5 414.6h.01M615.5 439.5h.01M628.4 421.6h.01M603.1 426.5h.01M609.7 442.1h.01M636.9 426.2h.01M613.3 405.1h.01M635.2 424.4h.01M618.8 440.6h.01M622.4 416.9h.01M618.8 410.1h.01M610.6 427.0h.01M596.1 400.7h.01M617.2 429.7h.01M611.1 392.4h.01M615.2 428.2h.01M607.4 424.9h.01M619.2 446.9h.01M597.4 380.6h.01M597.3 387.2h.01M603.8 442.9h.01M617.5 423.9h.01M604.0 431.1h.01M610.9 396.8h.01M614.2 440.5h.01M614.6 415.2h.01M604.3 438.8h.01M607.1 382.1h.01M631.6 412.4h.01M595.1 443.9h.01M604.8 392.2h.01M596.7 421.4h.01M605.0 432.8h.01M599.5 427.5h.01M610.2 429.3h.01M605.3 411.2h.01M614.8 431.4h.01M600.8 419.5h.01M600.8 391.1h.01M599.0 442.2h.01M607.5 441.1h.01M644.0 422.6h.01M615.9 425.6h.01M603.7 428.6h.01M600.1 435.3h.01M628.2 410.4h.01M616.2 413.5h.01M598.0 395.2h.01M616.9 418.3h.01M597.4 410.5h.01M589.1 394.7h.01M613.1 446.3h.01M619.1 426.3h.01M601.1 383.7h.01M604.6 414.9h.01M634.7 418.9h.01M592.4 399.9h.01M631.6 417.6h.01M592.8 393.7h.01M602.3 396.2h.01M596.0 384.2h.01M592.2 402.6h.01M603.7 380.8h.01M600.2 413.1h.01M614.5 426.4h.01M594.1 385.0h.01M605.4 382.6h.01M592.0 383.5h.01M638.3 424.1h.01M603.4 436.7h.01M599.0 411.2h.01M597.8 440.5h.01M597.6 413.5h.01M621.6 418.8h.01M613.7 413.6h.01M617.3 434.0h.01M600.8 399.1h.01M606.9 412.3h.01M604.7 386.5h.01M606.6 410.2h.01M595.4 403.2h.01M606.0 389.0h.01M601.1 427.5h.01M626.1 416.5h.01M587.5 396.8h.01M596.3 388.7h.01M608.6 435.6h.01M619.1 435.1h.01M605.8 379.0h.01M616.7 432.5h.01M596.9 396.5h.01M597.7 438.9h.01M607.4 414.3h.01M610.7 400.7h.01M609.5 392.2h.01M606.4 384.2h.01M630.8 425.3h.01M633.5 423.3h.01M624.3 415.5h.01M588.9 406.9h.01M606.1 391.3h.01M593.5 392.1h.01M591.5 398.1h.01M617.9 414.8h.01M587.2 389.2h.01M629.5 420.6h.01M600.6 408.2h.01M609.8 413.4h.01M606.8 430.6h.01M612.9 439.3h.01M593.7 382.0h.01M617.7 420.8h.01M612.4 406.9h.01M589.0 396.6h.01M611.1 416.1h.01M607.1 446.8h.01M608.6 385.9h.01M598.1 423.1h.01M630.0 419.0h.01M615.4 407.1h.01M591.7 392.5h.01M632.5 414.3h.01M593.1 395.6h.01M598.2 384.9h.01M599.8 430.4h.01M614.5 447.1h.01M624.5 420.0h.01M611.9 438.0h.01M601.0 440.8h.01M607.1 433.6h.01M601.8 403.8h.01M619.7 414.6h.01M598.8 414.8h.01M616.8 415.8h.01M609.2 414.7h.01M618.8 418.0h.01M608.7 426.4h.01M617.9 411.7h.01M600.0 400.8h.01M626.3 411.7h.01M606.7 438.9h.01M612.8 409.6h.01M601.5 444.9h.01M595.1 408.8h.01M611.9 402.8h.01M607.7 400.2h.01M607.6 392.2h.01M609.9 407.1h.01M586.5 390.0h.01M588.9 385.9h.01M591.6 384.6h.01M595.2 381.1h.01M595.9 379.0h.01M603.4 380.0h.01M606.8 378.6h.01M605.8 378.4h.01M608.2 383.3h.01M612.0 388.6h.01M612.2 389.7h.01M610.7 395.4h.01M613.0 403.2h.01M617.6 406.3h.01M621.2 407.4h.01M626.4 410.5h.01M631.8 412.9h.01M633.1 414.7h.01M637.6 419.1h.01M641.9 422.5h.01M644.0 423.4h.01M644.4 422.8h.01M642.1 423.4h.01M636.6 426.6h.01M635.8 426.5h.01M631.2 425.3h.01M627.1 424.0h.01M619.9 426.6h.01M618.6 433.2h.01M617.9 437.3h.01M619.3 444.0h.01M620.0 445.3h.01M619.9 446.6h.01M614.9 446.5h.01M608.5 446.4h.01M604.2 446.4h.01M597.9 444.9h.01M594.8 442.9h.01M595.7 443.7h.01M597.2 435.3h.01M598.0 432.4h.01M597.3 426.7h.01M596.5 426.5h.01M594.0 419.8h.01M594.2 419.4h.01M592.7 413.7h.01M589.6 409.3h.01M589.6 405.0h.01M588.1 402.0h.01M588.1 400.6h.01M586.7 393.2h.01M619.2 396.7h.01M620.8 399.2h.01M624.5 402.8h.01M586.3 412.5h.01M585.8 421.3h.01M587.5 424.2h.01M590.0 426.7h.01M589.5 434.2h.01M640.0 419.7h.01M645.8 422.5h.01M643.3 425.0h.01M628.3 427.5h.01M631.7 430.0h.01M636.7 431.7h.01M641.7 433.3h.01M644.2 437.5h.01M627.5 438.3h.01M628.3 442.0h.01M621.3 446.3h.01M627.0 449.7h.01M641.3 454.7h.01M649.5 445.0h.01M650.0 447.0h.01M613.3 426.7h.01M616.7 428.3h.01M610.0 430.0h.01M593.8 465.7h.01M614.0 453.9h.01M594.4 462.4h.01M599.5 462.5h.01M609.3 457.8h.01M616.2 456.8h.01M627.1 458.2h.01M602.1 457.6h.01M586.3 448.6h.01M589.7 449.3h.01M600.1 459.5h.01M610.8 461.9h.01M589.1 452.8h.01M613.8 457.9h.01M607.2 460.0h.01M606.5 452.4h.01M601.8 460.6h.01M603.2 452.6h.01M591.7 451.2h.01M610.7 463.4h.01M586.8 455.0h.01M590.5 459.7h.01M592.7 449.7h.01M601.2 454.2h.01M591.2 454.3h.01M622.2 461.9h.01M593.8 458.3h.01M618.1 455.2h.01M586.9 443.7h.01M616.3 454.5h.01M597.4 456.5h.01M611.2 454.0h.01M606.9 456.7h.01M619.1 459.0h.01M589.8 456.6h.01M604.4 454.4h.01M614.4 462.9h.01M605.8 466.8h.01M588.4 461.8h.01M607.3 465.6h.01M596.8 451.1h.01M599.7 449.3h.01M600.3 461.0h.01M615.2 460.9h.01M622.8 459.1h.01M585.7 445.7h.01M605.9 455.5h.01M583.7 448.7h.01M586.4 445.0h.01M586.7 444.0h.01M592.1 446.4h.01M598.7 450.4h.01M602.2 451.2h.01M609.2 452.2h.01M614.6 452.0h.01M616.2 453.4h.01M623.4 454.9h.01M629.8 455.6h.01M628.5 457.1h.01M628.0 457.2h.01M621.2 464.0h.01M620.3 461.8h.01M614.2 465.5h.01M612.0 466.2h.01M608.1 466.7h.01M601.8 466.0h.01M596.1 465.0h.01M592.3 465.6h.01M588.9 463.8h.01M587.6 461.5h.01M586.5 454.3h.01M561.3 443.3h.01M566.3 440.5h.01M571.3 443.0h.01M571.3 448.3h.01M566.7 457.5h.01M573.8 455.3h.01M575.0 459.2h.01M576.7 463.3h.01M579.7 464.2h.01M579.2 468.3h.01M585.8 471.3h.01M590.0 470.0h.01M576.3 474.7h.01M581.7 475.0h.01M652.1 458.7h.01M651.6 462.2h.01M647.2 465.0h.01M648.3 461.0h.01M657.9 461.2h.01M648.5 464.2h.01M645.2 462.2h.01M635.3 465.6h.01M641.6 464.1h.01M645.9 461.5h.01M652.1 459.5h.01M660.3 460.4h.01M660.0 461.1h.01M657.9 461.2h.01M653.6 463.6h.01M647.3 463.9h.01M641.4 463.9h.01M635.1 464.7h.01M636.4 464.2h.01M630.0 466.3h.01M658.0 451.3h.01M663.3 450.8h.01M660.0 446.7h.01M669.2 447.3h.01M654.1 430.4h.01M668.6 442.4h.01M667.8 444.1h.01M669.5 435.9h.01M672.1 449.1h.01M672.1 441.6h.01M663.1 436.0h.01M663.0 431.8h.01M666.4 432.2h.01M667.8 436.8h.01M670.6 449.4h.01M669.6 445.9h.01M662.5 434.5h.01M680.2 438.3h.01M671.0 434.6h.01M672.9 433.8h.01M673.9 444.8h.01M665.9 437.7h.01M674.7 438.1h.01M669.0 433.1h.01M659.1 430.4h.01M651.8 429.3h.01M655.3 429.2h.01M660.1 428.9h.01M665.6 428.7h.01M669.4 431.1h.01M674.0 435.5h.01M678.3 436.9h.01M679.6 439.7h.01M680.1 442.2h.01M676.7 447.8h.01M672.9 449.3h.01M671.3 449.8h.01M667.4 445.8h.01M667.9 443.1h.01M665.9 437.1h.01M661.0 435.7h.01M661.8 435.6h.01M656.7 431.5h.01M653.3 430.0h.01M652.3 429.6h.01M702.1 438.2h.01M701.1 472.6h.01M710.0 466.4h.01M702.1 454.4h.01M706.7 456.2h.01M685.7 462.8h.01M699.6 437.0h.01M710.2 440.8h.01M708.6 443.7h.01M722.2 466.8h.01M703.8 445.5h.01M691.7 433.0h.01M704.7 439.0h.01M704.6 470.7h.01M692.3 425.0h.01M695.9 444.1h.01M696.2 451.8h.01M680.6 456.0h.01M713.2 465.8h.01M703.3 468.0h.01M706.2 453.6h.01M693.3 466.3h.01M700.0 438.9h.01M697.7 445.8h.01M678.4 457.6h.01M718.8 456.5h.01M698.3 458.2h.01M699.4 460.5h.01M713.4 469.2h.01M678.2 460.3h.01M690.3 459.2h.01M710.3 442.2h.01M695.9 460.0h.01M703.6 432.4h.01M694.2 430.0h.01M711.9 461.3h.01M718.4 447.9h.01M684.8 421.9h.01M710.6 457.2h.01M706.2 448.2h.01M690.2 426.5h.01M694.0 427.4h.01M690.9 464.2h.01M692.2 445.7h.01M694.2 461.5h.01M700.9 474.4h.01M722.7 456.0h.01M692.8 444.2h.01M685.8 449.8h.01M707.2 437.9h.01M706.0 442.9h.01M718.6 450.8h.01M712.1 451.8h.01M714.7 448.9h.01M721.0 448.0h.01M692.2 438.4h.01M693.8 463.2h.01M681.8 463.5h.01M682.6 460.0h.01M684.3 453.1h.01M701.3 461.6h.01M691.9 462.8h.01M712.1 439.8h.01M704.8 456.1h.01M681.4 457.2h.01M712.4 454.2h.01M714.2 458.0h.01M688.2 429.5h.01M696.6 430.8h.01M689.6 435.6h.01M718.2 466.0h.01M707.3 450.2h.01M680.4 453.8h.01M692.7 426.5h.01M716.7 462.7h.01M679.5 426.5h.01M701.8 439.8h.01M683.3 427.8h.01M714.3 443.6h.01M724.5 459.3h.01M718.8 472.0h.01M700.0 450.4h.01M715.8 469.2h.01M702.3 435.6h.01M701.6 434.2h.01M685.7 453.6h.01M703.7 454.8h.01M722.0 453.8h.01M721.2 472.6h.01M701.0 443.7h.01M711.3 464.7h.01M722.5 448.6h.01M700.5 463.4h.01M708.9 453.5h.01M688.6 441.4h.01M684.5 458.7h.01M685.5 429.6h.01M710.5 458.8h.01M689.5 425.2h.01M701.1 456.6h.01M717.9 469.0h.01M683.8 463.3h.01M702.5 471.9h.01M722.7 465.2h.01M717.9 457.9h.01M684.5 424.6h.01M686.3 430.9h.01M696.0 454.4h.01M700.4 430.9h.01M707.3 460.9h.01M709.2 457.7h.01M688.6 431.9h.01M685.3 440.0h.01M691.7 450.3h.01M716.3 458.0h.01M683.2 461.9h.01M709.2 464.0h.01M698.1 466.0h.01M692.5 453.9h.01M712.7 457.9h.01M693.8 438.1h.01M705.8 445.1h.01M724.7 449.2h.01M703.3 457.2h.01M696.8 447.0h.01M693.7 433.3h.01M673.0 456.8h.01M696.1 457.7h.01M674.9 456.0h.01M714.5 441.2h.01M710.9 463.3h.01M683.2 420.2h.01M711.6 468.4h.01M721.3 457.1h.01M703.0 442.6h.01M680.2 422.3h.01M707.9 471.3h.01M678.8 424.6h.01M694.2 448.7h.01M688.2 439.2h.01M715.5 472.7h.01M694.6 451.6h.01M714.8 466.6h.01M715.3 461.3h.01M683.7 465.6h.01M706.7 435.7h.01M716.8 453.6h.01M714.5 454.3h.01M685.8 464.9h.01M709.6 447.8h.01M707.2 473.4h.01M678.7 424.8h.01M681.9 421.8h.01M686.7 421.4h.01M688.1 422.6h.01M692.4 424.3h.01M694.8 427.1h.01M698.0 431.5h.01M702.4 432.4h.01M705.8 433.1h.01M710.0 436.9h.01M715.7 442.2h.01M719.6 445.7h.01M724.1 449.8h.01M726.0 449.7h.01M725.6 457.0h.01M725.2 463.0h.01M723.2 467.6h.01M721.7 472.0h.01M719.2 473.4h.01M715.0 473.3h.01M705.7 474.3h.01M701.3 474.8h.01M699.7 472.9h.01M694.1 468.4h.01M689.4 469.0h.01M688.5 469.6h.01M681.5 464.2h.01M680.9 464.3h.01M672.2 458.3h.01M669.9 456.6h.01M674.8 456.2h.01M680.7 452.8h.01M684.5 448.3h.01M685.1 440.8h.01M685.1 438.3h.01M681.8 431.6h.01M678.9 428.5h.01M213.9 527.2h.01M184.7 524.3h.01M169.3 557.8h.01M201.0 533.0h.01M158.3 553.4h.01M213.1 511.8h.01M196.2 532.3h.01M167.6 551.4h.01M183.4 533.3h.01M176.2 515.6h.01M175.2 519.0h.01M164.0 563.9h.01M182.7 540.5h.01M225.4 549.3h.01M177.8 560.7h.01M182.6 550.8h.01M194.6 531.6h.01M152.4 546.2h.01M223.0 515.4h.01M169.5 556.2h.01M172.6 520.3h.01M189.8 564.9h.01M225.2 527.4h.01M207.9 509.2h.01M173.5 541.9h.01M210.1 520.0h.01M196.2 523.5h.01M202.5 506.8h.01M200.0 512.7h.01M189.2 518.4h.01M190.3 539.7h.01M180.0 520.2h.01M150.8 554.5h.01M177.2 543.3h.01M171.5 552.3h.01M194.3 521.8h.01M203.2 543.7h.01M154.1 536.5h.01M217.8 549.5h.01M195.6 501.7h.01M220.9 506.3h.01M201.0 518.6h.01M206.5 553.4h.01M205.2 540.8h.01M182.7 515.0h.01M204.2 528.1h.01M216.5 530.7h.01M182.2 553.5h.01M160.0 552.6h.01M167.7 558.9h.01M224.4 542.0h.01M169.7 550.0h.01M186.3 509.3h.01M229.3 552.2h.01M169.4 530.6h.01M212.7 526.4h.01M170.7 538.0h.01M170.2 534.7h.01M158.7 536.0h.01M181.6 565.7h.01M213.3 504.2h.01M234.1 537.0h.01M196.2 512.3h.01M193.5 555.4h.01M178.5 533.2h.01M225.5 517.8h.01M182.0 561.9h.01M209.3 535.2h.01M186.3 516.4h.01M183.4 508.9h.01M240.6 549.0h.01M161.2 530.2h.01M179.1 509.8h.01M206.4 503.7h.01M197.1 524.7h.01M194.8 506.7h.01M180.4 536.4h.01M228.3 542.7h.01M158.1 545.8h.01M159.7 549.0h.01M224.9 532.2h.01M202.8 523.5h.01M153.0 551.2h.01M159.2 534.6h.01M163.4 534.8h.01M189.8 566.9h.01M199.8 544.9h.01M220.9 546.3h.01M215.5 542.0h.01M178.0 511.5h.01M210.2 507.0h.01M194.2 519.3h.01M184.9 547.5h.01M207.8 544.8h.01M205.8 546.9h.01M207.9 501.6h.01M166.1 531.6h.01M165.8 554.3h.01M185.9 513.1h.01M186.4 526.9h.01M186.8 563.9h.01M217.0 541.0h.01M195.8 552.2h.01M219.8 531.7h.01M183.9 541.7h.01M228.9 547.7h.01M232.6 550.8h.01M228.2 546.0h.01M220.9 513.3h.01M157.7 542.1h.01M172.4 555.1h.01M151.9 549.2h.01M177.8 548.6h.01M218.7 527.1h.01M210.8 524.7h.01M219.1 518.6h.01M159.1 560.5h.01M176.6 519.6h.01M197.2 501.3h.01M239.5 546.5h.01M233.2 543.3h.01M166.4 557.8h.01M152.2 542.2h.01M158.9 557.2h.01M189.9 557.1h.01M164.2 525.9h.01M223.7 523.5h.01M207.2 517.8h.01M216.7 519.8h.01M187.0 552.7h.01M221.0 549.0h.01M168.4 535.7h.01M204.6 518.1h.01M188.9 549.7h.01M167.2 548.2h.01M155.7 547.4h.01M230.5 548.4h.01M204.1 538.3h.01M184.0 520.5h.01M171.9 565.4h.01M227.6 513.0h.01M203.5 513.4h.01M179.4 551.0h.01M197.7 523.3h.01M197.1 518.6h.01M193.6 536.1h.01M186.7 559.2h.01M159.0 538.8h.01M174.9 534.8h.01M189.8 561.4h.01M206.5 539.8h.01M196.1 565.2h.01M180.2 508.5h.01M200.1 558.2h.01M190.1 537.6h.01M186.8 529.0h.01M187.3 513.8h.01M192.5 521.5h.01M179.8 545.4h.01M214.9 544.2h.01M162.5 536.1h.01M203.6 545.8h.01M170.3 528.5h.01M214.4 550.7h.01M172.1 517.3h.01M202.1 535.3h.01M165.5 518.9h.01M215.9 515.5h.01M184.8 532.0h.01M181.7 511.0h.01M207.9 550.0h.01M208.3 537.0h.01M197.9 532.9h.01M171.1 526.8h.01M168.4 521.3h.01M185.5 563.0h.01M160.6 562.5h.01M188.4 557.8h.01M184.3 517.9h.01M233.6 546.2h.01M216.6 537.7h.01M162.3 521.3h.01M234.6 547.4h.01M158.3 555.3h.01M157.9 540.0h.01M201.9 551.7h.01M186.3 524.3h.01M223.5 548.1h.01M198.0 514.2h.01M163.3 551.8h.01M210.7 516.6h.01M171.6 529.9h.01M211.8 502.3h.01M192.6 565.1h.01M206.0 521.5h.01M185.0 530.6h.01M165.8 523.4h.01M155.5 544.6h.01M165.0 536.8h.01M213.7 535.8h.01M189.5 514.5h.01M149.5 550.4h.01M181.6 520.4h.01M233.3 533.9h.01M169.8 515.5h.01M191.3 530.4h.01M198.9 564.6h.01M180.1 534.7h.01M237.5 544.4h.01M195.4 567.1h.01M201.6 557.9h.01M188.7 537.5h.01M212.0 539.8h.01M191.4 517.8h.01M224.6 551.7h.01M159.3 542.8h.01M221.8 524.3h.01M206.0 530.8h.01M172.1 524.6h.01M199.5 515.8h.01M172.9 548.7h.01M183.5 552.3h.01M235.7 542.8h.01M159.7 526.8h.01M204.7 522.7h.01M174.8 555.5h.01M222.8 512.5h.01M187.0 547.3h.01M211.9 520.2h.01M191.5 528.3h.01M174.4 521.7h.01M220.1 525.0h.01M178.4 516.7h.01M230.1 532.0h.01M229.3 535.1h.01M182.1 524.0h.01M218.4 551.9h.01M210.3 511.4h.01M188.4 509.9h.01M198.9 561.9h.01M152.4 539.9h.01M161.6 523.4h.01M241.0 547.2h.01M211.3 543.9h.01M165.2 549.8h.01M165.2 547.6h.01M161.8 542.6h.01M200.4 550.9h.01M223.2 507.5h.01M181.0 529.7h.01M187.7 541.9h.01M188.8 529.4h.01M185.2 538.6h.01M186.6 530.8h.01M173.8 532.7h.01M160.3 536.0h.01M204.5 515.1h.01M197.8 551.7h.01M193.4 567.8h.01M180.6 539.2h.01M224.0 511.1h.01M195.3 562.5h.01M172.2 533.3h.01M169.7 542.7h.01M203.0 521.8h.01M161.8 548.5h.01M190.4 541.3h.01M176.5 549.7h.01M160.9 546.3h.01M210.9 527.6h.01M219.0 547.1h.01M198.9 508.0h.01M194.3 527.8h.01M220.4 509.3h.01M213.1 522.1h.01M181.2 527.0h.01M224.0 516.6h.01M178.9 554.3h.01M215.6 528.5h.01M163.5 548.6h.01M223.8 529.3h.01M218.5 520.6h.01M229.5 541.8h.01M200.4 536.7h.01M191.3 532.1h.01M182.5 512.6h.01M164.5 522.6h.01M197.3 568.9h.01M193.0 524.5h.01M192.1 544.7h.01M168.0 524.4h.01M197.5 515.7h.01M207.4 534.5h.01M214.8 529.9h.01M205.1 551.7h.01M236.8 545.8h.01M171.1 540.7h.01M209.4 543.6h.01M155.9 540.3h.01M178.2 513.0h.01M156.4 535.5h.01M211.7 531.9h.01M170.9 560.6h.01M183.3 565.1h.01M221.0 535.8h.01M197.7 504.6h.01M175.1 548.6h.01M160.3 537.7h.01M199.1 527.7h.01M208.3 533.0h.01M166.0 562.1h.01M191.6 542.4h.01M188.7 507.3h.01M198.1 530.4h.01M201.5 503.6h.01M205.8 544.3h.01M164.0 541.0h.01M206.2 537.5h.01M200.1 553.5h.01M183.2 524.8h.01M210.0 532.0h.01M188.8 527.0h.01M174.0 545.4h.01M209.4 538.3h.01M208.2 548.2h.01M181.2 537.6h.01M210.2 547.4h.01M179.9 558.0h.01M213.6 539.2h.01M174.2 525.9h.01M167.6 517.5h.01M217.8 525.5h.01M231.1 539.8h.01M202.2 516.5h.01M180.9 518.3h.01M160.9 550.4h.01M162.1 564.3h.01M184.2 554.9h.01M190.9 513.9h.01M176.4 524.0h.01M209.7 513.0h.01M226.0 513.6h.01M214.8 507.9h.01M153.3 538.6h.01M195.8 546.9h.01M222.2 521.0h.01M177.9 563.6h.01M160.0 556.1h.01M199.6 522.7h.01M194.6 503.3h.01M210.1 502.2h.01M213.8 546.0h.01M165.6 533.1h.01M187.1 512.0h.01M196.1 509.4h.01M157.4 551.0h.01M164.3 538.2h.01M161.9 533.2h.01M169.9 562.2h.01M156.0 550.1h.01M150.5 547.9h.01M198.0 543.2h.01M161.9 560.6h.01M215.9 506.0h.01M166.9 555.7h.01M221.1 550.5h.01M181.7 568.7h.01M218.7 522.8h.01M199.5 538.3h.01M182.9 557.1h.01M177.2 551.9h.01M170.3 546.9h.01M207.7 514.6h.01M215.5 504.3h.01M201.5 538.2h.01M191.5 510.5h.01M212.1 528.6h.01M184.5 526.9h.01M187.9 554.7h.01M194.9 510.8h.01M211.1 546.0h.01M221.0 542.2h.01M226.5 542.7h.01M193.1 539.7h.01M222.8 505.2h.01M161.7 558.4h.01M218.0 505.9h.01M197.1 540.1h.01M229.5 537.7h.01M164.0 530.9h.01M240.9 545.6h.01M163.7 544.2h.01M185.5 522.7h.01M164.3 559.6h.01M159.5 547.5h.01M189.8 548.0h.01M156.8 548.6h.01M212.8 542.3h.01M183.3 559.9h.01M222.2 516.5h.01M183.1 543.2h.01M203.7 519.9h.01M185.9 543.3h.01M166.1 542.3h.01M185.1 535.9h.01M235.6 533.6h.01M183.2 510.5h.01M187.5 561.0h.01M189.7 509.1h.01M191.3 547.4h.01M229.3 515.6h.01M193.3 563.4h.01M224.5 538.0h.01M210.9 536.3h.01M206.5 555.0h.01M168.8 548.5h.01M231.5 549.6h.01M226.9 547.4h.01M180.2 532.3h.01M159.3 558.9h.01M172.2 546.9h.01M227.8 548.7h.01M217.4 543.5h.01M150.1 546.1h.01M213.9 531.9h.01M190.0 551.5h.01M202.7 555.0h.01M186.7 550.6h.01M178.3 522.2h.01M210.5 549.5h.01M209.8 541.2h.01M187.8 505.4h.01M197.1 528.2h.01M218.1 503.7h.01M194.8 559.3h.01M147.7 552.1h.01M149.8 544.2h.01M150.3 541.3h.01M153.6 538.3h.01M158.1 533.6h.01M159.5 527.2h.01M159.9 525.0h.01M164.0 519.4h.01M168.6 516.3h.01M173.2 514.7h.01M178.9 509.6h.01M181.4 508.6h.01M183.6 506.8h.01M187.3 504.7h.01M195.8 502.1h.01M196.4 501.8h.01M201.5 501.3h.01M205.2 500.7h.01M213.6 503.5h.01M218.4 503.4h.01M222.6 505.6h.01M223.6 508.9h.01M228.2 512.8h.01M229.7 516.2h.01M228.8 514.8h.01M225.2 519.1h.01M224.9 524.8h.01M227.8 529.5h.01M233.9 531.7h.01M236.9 532.4h.01M236.5 532.6h.01M235.7 535.7h.01M236.8 543.8h.01M240.2 544.9h.01M240.6 547.4h.01M241.1 548.1h.01M236.0 550.6h.01M232.4 551.9h.01M226.0 551.8h.01M216.8 553.7h.01M217.9 553.6h.01M213.4 551.1h.01M207.4 557.0h.01M208.8 555.2h.01M200.7 557.6h.01M199.7 564.2h.01M200.1 562.9h.01M197.4 569.5h.01M195.4 568.5h.01M191.0 567.4h.01M184.8 569.2h.01M183.2 569.5h.01M179.4 565.5h.01M173.7 564.0h.01M170.2 564.3h.01M163.5 563.8h.01M161.3 564.7h.01M156.6 559.2h.01M153.3 558.4h.01M148.9 552.2h.01M239.9 568.6h.01M212.1 571.5h.01M222.3 567.0h.01M223.6 574.7h.01M244.8 573.6h.01M220.5 570.6h.01M217.2 572.6h.01M227.0 572.7h.01M239.9 571.5h.01M225.9 575.1h.01M225.2 572.5h.01M220.9 573.5h.01M218.9 576.7h.01M228.6 575.2h.01M220.0 565.6h.01M237.1 568.4h.01M219.0 570.5h.01M235.6 569.6h.01M236.0 566.9h.01M224.6 570.9h.01M223.4 569.9h.01M246.6 573.0h.01M238.4 565.5h.01M227.2 576.3h.01M209.8 569.8h.01M205.4 568.5h.01M242.6 569.7h.01M218.0 574.3h.01M206.2 569.3h.01M207.3 569.6h.01M211.0 571.0h.01M218.1 569.9h.01M220.5 566.4h.01M221.4 565.8h.01M222.4 568.3h.01M229.3 571.5h.01M234.4 569.3h.01M236.6 563.9h.01M237.2 563.1h.01M237.1 563.3h.01M242.2 569.6h.01M247.8 572.3h.01M246.6 572.4h.01M245.3 573.7h.01M243.2 574.2h.01M239.4 573.2h.01M230.4 575.4h.01M229.0 577.5h.01M225.1 578.6h.01M218.2 576.9h.01M216.6 574.7h.01M209.5 571.7h.01M206.4 569.6h.01M206.0 570.1h.01M237.3 502.9h.01M238.7 507.3h.01M237.3 514.0h.01M237.3 522.3h.01M242.0 498.0h.01M244.0 496.0h.01M247.3 494.7h.01M252.0 491.3h.01M255.3 489.3h.01M258.7 487.3h.01M262.7 490.7h.01M258.0 496.0h.01M254.0 503.3h.01M252.0 501.3h.01M249.3 505.3h.01M246.7 507.3h.01M244.7 509.1h.01M236.7 531.3h.01M720.0 530.0h.01M723.5 535.3h.01M732.5 555.5h.01M735.5 560.0h.01M734.5 562.5h.01M737.2 566.7h.01M776.0 570.8h.01M742.0 607.5h.01M705.5 579.7h.01M709.5 582.5h.01M712.5 583.5h.01M726.0 587.0h.01M719.0 594.5h.01M742.6 546.0h.01M758.8 558.4h.01M747.0 552.8h.01M739.6 541.7h.01M747.6 551.2h.01M752.7 556.5h.01M757.1 557.5h.01M751.8 559.8h.01M751.7 552.9h.01M743.0 541.0h.01M743.1 548.2h.01M743.7 554.6h.01M751.4 551.4h.01M744.4 544.0h.01M747.7 542.2h.01M745.6 559.1h.01M744.6 557.2h.01M742.6 556.7h.01M746.2 561.6h.01M741.0 542.9h.01M746.2 541.3h.01M745.3 547.8h.01M748.7 546.4h.01M747.8 554.5h.01M742.7 552.0h.01M748.8 560.0h.01M739.0 532.3h.01M749.3 551.4h.01M753.9 553.9h.01M750.6 549.6h.01M740.0 531.9h.01M740.5 532.4h.01M743.1 537.0h.01M746.9 542.0h.01M749.5 544.7h.01M753.3 548.0h.01M756.9 553.5h.01M758.3 556.8h.01M761.2 563.0h.01M761.7 561.0h.01M759.6 562.4h.01M759.1 560.8h.01M750.8 560.6h.01M746.6 561.2h.01M745.5 562.4h.01M745.2 560.6h.01M742.1 555.8h.01M741.7 554.3h.01M741.5 551.2h.01M742.1 545.0h.01M739.7 544.3h.01M738.5 541.2h.01M740.5 537.0h.01M740.5 532.3h.01M749.6 568.7h.01M754.4 573.8h.01M757.4 576.4h.01M757.3 577.3h.01M756.8 577.2h.01M785.6 569.6h.01M786.8 565.6h.01M786.8 566.7h.01M786.3 567.6h.01M785.2 570.9h.01M787.3 570.5h.01M785.3 568.0h.01M778.5 593.0h.01M772.9 583.0h.01M756.6 589.8h.01M768.9 588.5h.01M738.3 600.0h.01M765.8 587.4h.01M767.1 584.3h.01M752.0 604.3h.01M777.0 585.3h.01M730.6 593.4h.01M723.4 592.9h.01M742.7 597.7h.01M773.2 592.6h.01M732.1 591.2h.01M758.7 592.1h.01M760.1 596.6h.01M759.0 585.0h.01M730.5 595.1h.01M751.3 600.7h.01M729.6 591.1h.01M766.9 589.2h.01M770.5 592.1h.01M754.3 597.5h.01M770.7 588.7h.01M748.6 592.8h.01M717.1 591.7h.01M734.4 595.0h.01M778.0 591.3h.01M751.3 597.9h.01M773.9 585.4h.01M784.7 586.4h.01M725.6 597.1h.01M747.8 594.7h.01M759.8 590.8h.01M756.0 605.3h.01M780.8 586.4h.01M745.6 601.0h.01M768.5 591.7h.01M773.8 599.4h.01M758.7 598.5h.01M746.4 598.5h.01M756.8 601.6h.01M768.2 600.1h.01M765.9 581.8h.01M761.3 592.3h.01M763.5 601.0h.01M746.1 591.6h.01M774.8 597.9h.01M779.7 590.3h.01M765.9 603.9h.01M780.6 584.0h.01M727.1 592.6h.01M767.4 594.1h.01M764.3 586.2h.01M764.9 598.1h.01M780.2 588.8h.01M752.9 592.6h.01M744.5 598.7h.01M772.4 588.5h.01M762.8 583.5h.01M771.4 596.4h.01M733.9 600.1h.01M777.0 581.2h.01M774.2 582.2h.01M761.4 603.1h.01M743.6 593.1h.01M746.4 595.6h.01M741.4 598.9h.01M753.9 588.1h.01M728.6 594.5h.01M764.1 596.4h.01M776.5 583.8h.01M770.6 587.2h.01M758.1 593.7h.01M718.2 593.1h.01M736.4 594.2h.01M778.2 596.0h.01M777.9 583.0h.01M771.2 580.0h.01M751.6 594.1h.01M755.8 603.2h.01M718.3 591.8h.01M722.2 592.0h.01M725.2 591.4h.01M730.5 590.9h.01M736.3 591.6h.01M742.2 589.2h.01M743.6 590.0h.01M750.9 589.6h.01M754.9 586.7h.01M756.7 585.7h.01M762.2 582.7h.01M766.3 581.8h.01M771.5 578.3h.01M772.3 580.5h.01M778.2 582.2h.01M782.2 581.0h.01M784.3 580.2h.01M785.4 582.8h.01M784.3 586.9h.01M782.3 590.6h.01M779.1 593.6h.01M776.9 597.2h.01M773.3 599.4h.01M767.1 603.8h.01M763.8 604.7h.01M757.9 604.3h.01M752.7 605.2h.01M748.0 602.3h.01M741.3 601.0h.01M735.2 599.8h.01M734.1 599.5h.01M726.9 597.0h.01M722.6 594.6h.01M718.4 592.4h.01M717.2 593.0h.01M717.8 591.4h.01M980.1 768.4h.01M1062.1 664.4h.01M935.9 717.7h.01M975.4 654.5h.01M1015.6 748.8h.01M1039.3 713.2h.01M1026.5 755.0h.01M1022.3 674.8h.01M997.3 759.8h.01M943.6 681.7h.01M905.1 722.4h.01M1048.4 676.8h.01M999.3 702.8h.01M1009.4 757.5h.01M934.4 712.2h.01M939.0 753.8h.01M1055.8 694.1h.01M953.4 683.9h.01M1047.7 709.7h.01M983.5 726.6h.01M953.3 717.4h.01M1001.8 666.2h.01M915.2 717.3h.01M1056.3 675.0h.01M1005.9 627.3h.01M948.1 684.4h.01M974.9 717.6h.01M940.5 706.7h.01M992.5 756.0h.01M942.3 727.4h.01M1021.7 715.6h.01M961.7 707.4h.01M1012.4 694.9h.01M1023.6 747.2h.01M1026.1 694.3h.01M951.7 715.8h.01M927.4 711.3h.01M936.2 759.5h.01M1025.3 761.3h.01M1046.8 715.9h.01M1015.9 631.7h.01M1009.4 660.1h.01M933.9 724.8h.01M927.6 754.0h.01M966.8 752.3h.01M959.2 722.2h.01M1010.9 695.6h.01M1016.6 761.6h.01M980.8 668.3h.01M918.9 739.4h.01M1008.8 679.4h.01M971.6 777.9h.01M981.7 680.4h.01M914.4 762.3h.01M1032.5 719.9h.01M971.4 714.9h.01M985.0 717.0h.01M955.7 758.2h.01M988.2 661.2h.01M998.9 751.9h.01M984.7 676.0h.01M992.2 737.2h.01M933.1 770.1h.01M970.2 691.8h.01M988.2 748.9h.01M974.3 643.1h.01M1049.7 724.2h.01M949.1 728.5h.01M975.1 739.3h.01M965.5 696.2h.01M1037.2 694.9h.01M992.0 748.8h.01M1045.3 719.4h.01M989.5 638.6h.01M1029.5 734.1h.01M925.5 718.7h.01M964.8 683.0h.01M990.0 691.7h.01M920.6 780.2h.01M1001.5 688.4h.01M967.5 759.8h.01M1034.8 697.7h.01M1033.6 748.6h.01M938.9 733.7h.01M1049.1 681.9h.01M941.1 746.4h.01M1005.1 687.8h.01M1018.4 653.0h.01M981.9 750.7h.01M1013.7 736.5h.01M964.0 707.1h.01M977.2 765.0h.01M963.5 759.7h.01M1024.7 653.0h.01M958.4 753.9h.01M1016.5 724.9h.01M1045.1 677.2h.01M1021.9 759.0h.01M1047.0 675.5h.01M933.4 766.9h.01M927.8 769.6h.01M1035.4 693.4h.01M1010.1 627.7h.01M1056.3 669.1h.01M935.9 703.2h.01M981.5 703.4h.01M1020.7 652.5h.01M1033.3 676.2h.01M968.5 771.9h.01M1024.1 743.7h.01M1033.0 692.5h.01M960.0 709.2h.01M1041.8 650.8h.01M1017.9 701.2h.01M1054.0 690.9h.01M978.7 663.4h.01M938.2 726.5h.01M996.2 745.1h.01M989.5 724.8h.01M989.8 701.6h.01M959.0 673.6h.01M957.6 706.9h.01M975.9 713.3h.01M955.1 723.6h.01M998.4 697.2h.01M978.4 661.3h.01M1035.0 701.9h.01M1057.8 677.8h.01M997.8 691.3h.01M1011.4 715.1h.01M948.9 745.8h.01M1008.8 739.7h.01M1012.1 681.0h.01M1002.3 650.9h.01M1007.2 749.6h.01M1010.2 673.7h.01M1030.7 737.5h.01M930.4 754.0h.01M960.2 758.9h.01M945.9 777.7h.01M953.1 759.1h.01M1028.2 710.7h.01M991.1 670.6h.01M999.2 629.6h.01M977.9 699.3h.01M998.9 685.2h.01M1054.9 657.5h.01M983.0 737.4h.01M1025.3 673.1h.01M923.3 737.2h.01M923.9 759.8h.01M1036.5 706.5h.01M1013.1 665.1h.01M919.0 734.7h.01M1059.3 690.9h.01M1033.7 656.5h.01M1020.9 738.1h.01M917.8 774.9h.01M995.7 725.8h.01M1027.5 663.4h.01M1043.8 660.6h.01M982.1 639.4h.01M987.9 667.5h.01M971.5 774.2h.01M972.6 705.9h.01M1054.0 688.5h.01M1019.1 641.9h.01M1032.9 705.2h.01M913.4 735.4h.01M1028.3 676.1h.01M940.6 714.9h.01M948.0 774.5h.01M1005.3 696.7h.01M949.2 755.4h.01M1013.6 691.5h.01M910.7 711.3h.01M1054.4 651.0h.01M947.8 679.5h.01M959.0 727.8h.01M953.0 700.1h.01M1009.9 667.7h.01M925.3 731.1h.01M974.0 763.4h.01M1000.3 734.8h.01M1050.0 719.9h.01M1046.1 731.8h.01M958.8 740.6h.01M947.6 706.1h.01M1005.8 751.7h.01M943.4 748.0h.01M992.1 726.8h.01M918.9 709.8h.01M918.4 727.2h.01M1032.7 685.9h.01M974.1 726.2h.01M1040.9 736.5h.01M1013.9 659.2h.01M1018.4 730.9h.01M982.1 678.7h.01M1039.3 698.0h.01M993.2 641.4h.01M994.2 727.7h.01M946.9 714.2h.01M966.9 776.7h.01M1050.3 695.4h.01M964.5 725.9h.01M984.7 698.7h.01M1033.3 745.5h.01M949.3 674.0h.01M971.8 640.9h.01M1012.1 677.4h.01M1048.0 697.9h.01M992.6 675.1h.01M931.1 735.6h.01M1024.3 657.4h.01M973.4 774.0h.01M1029.7 753.3h.01M998.1 654.7h.01M1009.7 718.6h.01M989.2 775.3h.01M956.9 728.5h.01M920.4 768.8h.01M1048.3 672.0h.01M1020.7 745.6h.01M973.8 769.2h.01M1023.9 660.0h.01M1011.1 707.3h.01M996.0 691.4h.01M995.8 715.5h.01M955.5 683.1h.01M930.0 727.4h.01M1037.3 659.9h.01M999.5 687.0h.01M986.6 654.8h.01M998.2 701.1h.01M939.8 735.3h.01M958.2 751.7h.01M1005.2 717.4h.01M919.5 759.7h.01M921.5 715.5h.01M942.3 709.8h.01M978.0 668.2h.01M1057.6 698.7h.01M924.1 746.0h.01M930.2 746.3h.01M988.0 746.8h.01M1002.2 771.4h.01M1025.0 685.7h.01M963.6 762.3h.01M1054.8 684.9h.01M1017.0 678.4h.01M948.3 670.2h.01M1015.4 699.2h.01M1035.6 653.6h.01M931.3 710.7h.01M936.5 765.5h.01M993.8 704.4h.01M1047.9 646.3h.01M1008.5 768.7h.01M946.0 694.0h.01M978.4 674.4h.01M938.0 693.7h.01M950.4 703.6h.01M996.6 689.6h.01M1000.3 691.0h.01M984.7 703.0h.01M998.9 748.7h.01M1008.2 658.3h.01M924.7 750.9h.01M997.1 646.0h.01M960.0 711.6h.01M1007.5 647.0h.01M947.7 751.0h.01M1050.5 653.3h.01M966.1 732.8h.01M923.0 735.1h.01M923.9 732.1h.01M970.0 757.3h.01M985.0 705.8h.01M974.2 759.2h.01M1011.7 661.4h.01M966.7 750.2h.01M994.2 639.7h.01M952.5 678.5h.01M973.2 694.6h.01M992.8 761.1h.01M940.0 749.8h.01M1059.4 650.9h.01M1035.0 720.6h.01M966.6 708.4h.01M1051.2 702.3h.01M995.5 704.5h.01M920.4 772.4h.01M945.0 736.4h.01M1005.5 746.8h.01M982.5 777.1h.01M989.0 674.5h.01M916.2 756.9h.01M977.7 762.8h.01M922.5 763.3h.01M976.3 723.1h.01M966.7 739.6h.01M980.2 679.2h.01M1003.6 644.0h.01M949.4 676.3h.01M1040.2 715.2h.01M914.8 749.4h.01M964.1 758.1h.01M919.6 742.5h.01M1016.5 716.5h.01M1003.8 699.4h.01M973.5 701.3h.01M1002.6 763.4h.01M958.2 715.0h.01M974.3 671.8h.01M1008.9 682.1h.01M1058.2 662.6h.01M918.8 744.6h.01M968.2 735.8h.01M1019.3 682.3h.01M946.5 741.3h.01M1012.9 734.9h.01M971.8 664.2h.01M1011.7 730.3h.01M1027.6 637.1h.01M937.3 749.1h.01M1052.2 647.8h.01M1056.8 707.1h.01M923.7 713.1h.01M941.1 730.1h.01M1005.9 761.5h.01M1013.5 743.9h.01M984.3 779.2h.01M1060.4 654.7h.01M937.9 724.5h.01M992.4 692.4h.01M984.7 656.5h.01M971.5 721.1h.01M1026.3 739.9h.01M1042.2 654.5h.01M991.7 642.6h.01M964.2 703.0h.01M980.7 776.0h.01M966.5 771.8h.01M951.1 746.5h.01M928.7 719.5h.01M911.8 746.3h.01M928.5 783.5h.01M953.1 764.7h.01M991.2 658.7h.01M1021.6 693.4h.01M1041.9 745.1h.01M978.9 670.4h.01M990.6 733.6h.01M972.2 669.4h.01M983.5 769.4h.01M1011.7 771.8h.01M1052.9 654.1h.01M1006.5 682.1h.01M1008.9 644.0h.01M920.3 763.4h.01M975.3 743.7h.01M999.6 744.3h.01M920.7 785.4h.01M1031.6 639.9h.01M1030.1 685.4h.01M987.0 628.5h.01M982.5 685.2h.01M974.6 679.4h.01M1042.0 683.5h.01M1039.9 708.3h.01M960.6 768.4h.01M1019.5 675.5h.01M1009.3 763.6h.01M978.4 730.0h.01M975.7 710.3h.01M978.0 690.3h.01M997.0 687.9h.01M951.7 691.4h.01M1030.9 647.6h.01M980.6 660.6h.01M1019.5 661.2h.01M1023.4 705.7h.01M1048.6 713.9h.01M1012.3 725.6h.01M1036.1 683.7h.01M969.3 671.3h.01M1001.0 628.4h.01M1012.1 754.4h.01M952.1 762.8h.01M1027.5 648.2h.01M1061.6 656.1h.01M925.2 715.6h.01M910.9 773.6h.01M928.1 739.9h.01M993.3 729.7h.01M1006.5 753.2h.01M921.9 730.7h.01M911.0 768.4h.01M945.4 710.3h.01M1037.8 654.5h.01M960.7 677.5h.01M1008.2 704.0h.01M1003.3 676.2h.01M994.0 685.9h.01M1042.6 694.7h.01M971.5 716.8h.01M1032.5 642.1h.01M992.1 689.6h.01M1018.4 759.0h.01M994.7 749.2h.01M1015.4 682.6h.01M974.2 647.6h.01M1061.7 668.2h.01M1017.1 693.8h.01M923.2 767.0h.01M936.2 754.4h.01M1016.8 641.7h.01M1032.6 729.1h.01M960.4 716.4h.01M985.0 665.5h.01M1000.2 736.3h.01M1026.2 681.9h.01M1030.5 706.7h.01M997.0 771.4h.01M932.3 705.1h.01M1030.6 654.6h.01M1030.5 739.7h.01M957.0 703.5h.01M961.6 704.3h.01M1059.8 675.3h.01M979.3 725.7h.01M1017.0 718.1h.01M1031.8 672.0h.01M940.8 698.7h.01M1049.5 649.7h.01M996.8 669.4h.01M939.0 700.8h.01M1031.8 715.7h.01M999.3 659.1h.01M990.3 747.1h.01M980.1 655.8h.01M952.9 747.3h.01M1014.2 636.0h.01M978.8 702.2h.01M954.2 688.6h.01M979.7 646.8h.01M1016.9 723.3h.01M950.3 743.5h.01M1018.3 766.6h.01M1016.1 636.7h.01M983.9 743.7h.01M1003.7 709.1h.01M946.1 767.1h.01M1058.7 657.7h.01M941.0 739.4h.01M947.0 686.0h.01M1044.1 671.4h.01M1047.2 666.1h.01M980.0 732.5h.01M961.5 687.2h.01M1032.3 666.5h.01M1000.1 677.7h.01M1024.2 691.7h.01M1027.7 720.2h.01M961.8 674.7h.01M985.4 644.3h.01M945.7 728.5h.01M935.2 775.6h.01M975.6 736.3h.01M994.1 768.0h.01M974.2 657.7h.01M1007.2 700.5h.01M946.2 762.8h.01M1044.6 665.5h.01M990.6 777.4h.01M934.9 704.5h.01M913.1 767.8h.01M1032.9 646.9h.01M952.0 732.6h.01M1039.4 704.1h.01M998.5 669.3h.01M936.2 767.5h.01M987.9 648.1h.01M977.0 680.4h.01M966.5 683.0h.01M910.7 769.9h.01M1057.7 685.4h.01M960.3 735.0h.01M1057.3 711.0h.01M1008.9 639.8h.01M954.4 697.8h.01M1010.0 685.6h.01M1023.9 762.0h.01M943.8 709.9h.01M934.8 755.7h.01M1011.2 759.5h.01M914.1 708.2h.01M926.9 751.4h.01M1029.7 678.4h.01M1044.0 668.2h.01M1042.7 680.8h.01M999.5 674.4h.01M1004.6 631.6h.01M962.6 680.9h.01M999.9 756.0h.01M928.6 744.5h.01M958.0 684.4h.01M983.0 703.7h.01M968.6 750.5h.01M1007.9 706.5h.01M998.4 630.9h.01M979.6 722.5h.01M984.1 735.6h.01M989.0 758.3h.01M958.2 696.9h.01M997.7 658.2h.01M1060.9 686.3h.01M985.3 708.9h.01M986.6 690.3h.01M1047.0 729.8h.01M1014.2 679.0h.01M941.6 708.3h.01M939.8 779.4h.01M1004.6 744.6h.01M983.3 739.7h.01M973.4 709.6h.01M1009.6 754.7h.01M1038.1 648.7h.01M936.6 774.5h.01M943.0 713.0h.01M952.8 773.3h.01M1034.9 725.0h.01M940.2 708.7h.01M1047.9 707.0h.01M1044.7 698.7h.01M953.6 703.5h.01M1003.0 769.4h.01M992.5 678.3h.01M984.9 662.9h.01M970.2 768.1h.01M932.2 753.7h.01M930.5 715.9h.01M985.8 744.6h.01M989.2 669.9h.01M1058.2 702.7h.01M930.1 712.9h.01M987.3 637.7h.01M1008.4 665.0h.01M1022.0 754.8h.01M970.0 685.0h.01M1028.2 751.0h.01M973.6 696.1h.01M1002.5 630.8h.01M988.6 763.5h.01M984.4 723.9h.01M965.1 691.4h.01M1051.6 724.9h.01M994.2 636.3h.01M1045.6 734.7h.01M975.8 662.3h.01M1059.5 679.1h.01M1023.9 728.9h.01M977.0 777.6h.01M1022.5 679.8h.01M952.8 756.3h.01M1037.6 674.0h.01M1033.9 712.4h.01M942.8 764.8h.01M998.7 736.9h.01M1015.5 764.3h.01M1038.1 664.2h.01M1025.1 680.6h.01M1026.3 715.0h.01M997.1 637.3h.01M919.4 767.0h.01M1052.0 680.3h.01M977.7 717.8h.01M921.9 742.7h.01M994.6 702.2h.01M999.5 769.9h.01M992.0 698.0h.01M936.1 770.9h.01M996.2 694.3h.01M983.7 633.9h.01M1038.9 720.9h.01M1021.1 705.2h.01M924.5 734.6h.01M993.4 688.1h.01M963.3 740.7h.01M955.4 774.8h.01M1047.8 655.4h.01M1017.4 698.5h.01M940.4 721.5h.01M1033.5 681.2h.01M990.9 635.9h.01M1055.8 661.9h.01M1009.5 661.8h.01M988.7 634.9h.01M954.7 748.8h.01M988.6 680.8h.01M968.8 674.3h.01M1012.2 668.7h.01M1010.1 770.5h.01M1036.7 657.0h.01M950.0 758.0h.01M1026.8 640.3h.01M952.3 754.6h.01M1015.1 692.1h.01M1010.0 767.2h.01M1016.3 714.7h.01M1014.5 745.4h.01M1029.0 649.2h.01M1021.1 697.2h.01M960.0 683.4h.01M1047.3 650.5h.01M971.0 683.5h.01M990.1 743.7h.01M1021.9 648.8h.01M935.1 727.2h.01M1008.7 687.0h.01M1014.5 697.3h.01M954.5 674.2h.01M973.4 639.8h.01M1020.0 649.9h.01M948.3 735.3h.01M984.8 669.7h.01M1051.4 671.9h.01M932.4 760.0h.01M973.5 754.4h.01M1003.6 695.0h.01M993.6 696.5h.01M1015.4 732.8h.01M1006.8 634.6h.01M938.7 759.6h.01M966.9 672.2h.01M1019.4 751.1h.01M1061.2 674.6h.01M995.5 718.1h.01M985.6 753.4h.01M995.0 679.6h.01M941.1 755.7h.01M915.7 721.1h.01M1034.9 666.2h.01M1024.0 733.9h.01M983.4 774.9h.01M960.6 726.5h.01M982.4 712.7h.01M963.3 736.3h.01M941.5 781.3h.01M1021.9 731.2h.01M1020.1 684.7h.01M928.1 734.5h.01M941.4 716.4h.01M1049.6 728.0h.01M1046.4 678.6h.01M949.8 712.4h.01M962.1 709.4h.01M1002.7 640.5h.01M1016.0 648.1h.01M948.0 765.2h.01M988.5 699.9h.01M956.9 708.2h.01M1030.2 682.1h.01M1019.9 686.9h.01M949.4 741.8h.01M976.6 692.9h.01M968.5 682.4h.01M1042.2 665.5h.01M1034.7 746.9h.01M1005.8 693.5h.01M1033.1 653.9h.01M960.3 750.8h.01M952.0 697.6h.01M953.2 751.3h.01M997.0 673.1h.01M1003.6 732.6h.01M910.7 712.8h.01M984.8 684.6h.01M1015.2 644.1h.01M987.7 692.4h.01M960.2 671.4h.01M1035.0 714.3h.01M1000.0 740.7h.01M994.2 745.3h.01M1016.3 710.6h.01M943.6 723.1h.01M1019.2 664.5h.01M984.5 682.8h.01M950.5 680.4h.01M968.6 730.3h.01M1022.6 717.5h.01M1014.4 654.1h.01M1040.7 659.2h.01M1023.4 639.8h.01M924.4 757.1h.01M998.7 738.4h.01M1037.8 741.3h.01M1000.8 682.0h.01M1054.7 666.5h.01M977.3 640.3h.01M987.6 684.4h.01M910.7 727.9h.01M1004.2 766.1h.01M1011.2 749.2h.01M949.3 779.2h.01M999.1 713.5h.01M966.1 762.9h.01M1006.6 714.4h.01M1003.4 753.3h.01M1060.3 669.2h.01M1036.1 678.9h.01M953.6 710.5h.01M981.7 689.0h.01M1055.6 680.2h.01M1052.7 726.6h.01M920.4 749.9h.01M983.7 647.2h.01M987.6 735.6h.01M1039.9 694.6h.01M999.7 710.0h.01M912.1 710.4h.01M1016.8 661.0h.01M1041.3 717.9h.01M948.2 681.9h.01M954.8 679.3h.01M953.0 753.0h.01M1004.1 661.0h.01M977.2 658.2h.01M1007.1 731.3h.01M1056.4 672.0h.01M1018.7 690.4h.01M1000.5 761.9h.01M1009.4 690.6h.01M983.0 662.1h.01M1008.5 772.7h.01M915.8 785.0h.01M1024.0 662.1h.01M938.0 740.9h.01M960.3 737.0h.01M959.1 756.4h.01M1036.3 719.2h.01M975.9 757.0h.01M982.2 676.0h.01M1055.0 683.3h.01M1001.9 683.7h.01M991.1 676.2h.01M1043.4 719.8h.01M1009.1 731.8h.01M1054.6 660.4h.01M956.3 720.5h.01M1027.0 665.2h.01M1003.7 646.8h.01M991.3 709.7h.01M1014.0 642.0h.01M956.6 771.2h.01M1017.6 640.3h.01M1002.4 671.6h.01M1033.9 639.3h.01M1021.4 688.8h.01M1047.5 726.7h.01M1020.4 711.4h.01M938.6 711.2h.01M916.4 779.7h.01M1050.9 729.0h.01M993.6 711.7h.01M967.4 714.9h.01M1034.2 658.4h.01M1002.9 759.7h.01M1055.4 690.2h.01M1054.8 702.3h.01M993.8 645.5h.01M990.9 695.3h.01M1009.9 637.2h.01M1029.6 732.5h.01M967.9 728.3h.01M925.3 723.9h.01M1004.1 711.8h.01M938.0 765.2h.01M925.8 752.4h.01M915.3 770.8h.01M947.8 738.3h.01M1029.3 667.1h.01M975.3 720.9h.01M918.4 712.2h.01M1017.1 675.3h.01M1058.5 705.9h.01M994.5 694.4h.01M986.3 718.9h.01M986.5 686.9h.01M1044.8 710.3h.01M1000.6 680.5h.01M1004.5 682.0h.01M958.1 681.8h.01M1027.7 749.1h.01M965.5 743.7h.01M987.0 740.1h.01M935.7 729.3h.01M990.6 631.3h.01M999.3 695.1h.01M1014.4 705.1h.01M1040.3 677.2h.01M949.1 753.2h.01M966.9 692.9h.01M1018.0 744.2h.01M1015.6 650.8h.01M990.8 672.3h.01M947.9 710.7h.01M990.7 741.6h.01M1004.2 750.7h.01M921.9 717.3h.01M946.1 705.3h.01M1004.9 757.3h.01M953.6 735.0h.01M938.8 736.6h.01M1057.0 696.2h.01M988.0 771.7h.01M992.0 758.5h.01M1035.7 735.4h.01M1035.1 740.1h.01M996.5 710.4h.01M961.5 753.7h.01M1016.0 752.7h.01M996.0 649.3h.01M984.9 750.2h.01M918.3 778.6h.01M918.8 736.8h.01M911.7 768.5h.01M913.6 762.6h.01M914.8 753.0h.01M912.1 744.9h.01M914.0 740.9h.01M911.7 731.0h.01M909.5 726.6h.01M907.5 720.0h.01M907.9 715.0h.01M914.9 708.0h.01M917.1 708.5h.01M924.5 712.8h.01M933.6 703.2h.01M933.0 699.2h.01M940.2 690.4h.01M939.4 683.1h.01M941.1 679.7h.01M945.7 671.7h.01M946.6 667.3h.01M946.7 667.1h.01M958.7 670.5h.01M959.7 670.5h.01M967.8 672.2h.01M973.3 660.3h.01M973.7 656.5h.01M974.8 646.1h.01M973.2 638.3h.01M980.5 632.9h.01M983.7 630.3h.01M987.9 630.8h.01M998.7 630.6h.01M1001.4 625.1h.01M1011.0 628.8h.01M1018.9 634.8h.01M1025.9 638.6h.01M1033.8 638.3h.01M1036.1 637.4h.01M1041.8 643.8h.01M1052.3 647.6h.01M1056.8 649.6h.01M1060.0 654.8h.01M1062.5 662.5h.01M1061.3 667.4h.01M1061.7 678.9h.01M1061.7 685.9h.01M1060.1 692.5h.01M1058.1 702.5h.01M1057.6 710.0h.01M1052.7 722.3h.01M1049.7 730.9h.01M1045.8 738.2h.01M1040.4 743.9h.01M1036.5 748.0h.01M1027.5 759.0h.01M1023.5 762.9h.01M1015.0 767.3h.01M1011.2 770.4h.01M1004.2 771.7h.01M996.6 772.5h.01M987.2 777.3h.01M983.6 779.0h.01M976.4 778.2h.01M971.5 777.0h.01M960.5 778.1h.01M954.2 778.6h.01M945.7 783.1h.01M945.6 782.5h.01M934.1 780.5h.01M925.3 784.2h.01M920.6 785.3h.01M916.0 782.5h.01M913.6 774.9h.01M911.1 771.4h.01M998.9 694.0h.01M1013.6 694.8h.01M993.9 716.6h.01M974.7 698.9h.01M928.2 755.9h.01M1012.7 701.7h.01M949.6 710.7h.01M944.3 744.4h.01M994.9 699.5h.01M1003.5 760.8h.01M935.2 722.0h.01M972.4 745.7h.01M975.9 710.9h.01M952.1 751.8h.01M921.4 766.6h.01M922.9 727.7h.01M1023.8 704.5h.01M978.2 706.8h.01M926.2 745.8h.01M1027.1 726.4h.01M1029.3 718.1h.01M998.8 770.6h.01M934.5 757.3h.01M947.8 725.0h.01M930.1 773.4h.01M1020.2 726.0h.01M985.7 743.5h.01M1012.9 730.0h.01M1025.2 708.8h.01M1016.1 736.8h.01M1024.1 702.0h.01M923.2 761.2h.01M964.7 713.4h.01M1020.2 744.6h.01M938.5 742.5h.01M988.6 691.4h.01M978.8 744.5h.01M935.7 773.4h.01M959.8 740.8h.01M952.3 728.5h.01M971.6 711.4h.01M930.2 761.2h.01M1032.3 712.9h.01M999.0 731.3h.01M993.4 693.0h.01M1001.8 697.8h.01M932.4 770.9h.01M1001.5 728.5h.01M947.9 740.1h.01M920.7 741.0h.01M975.7 716.1h.01M1020.9 758.1h.01M1002.8 715.9h.01M933.6 761.1h.01M922.7 731.3h.01M957.8 705.2h.01M985.1 735.1h.01M1016.2 748.4h.01M1035.2 708.5h.01M950.6 720.7h.01M975.9 724.2h.01M949.1 761.8h.01M981.5 742.9h.01M953.9 769.1h.01M976.7 761.0h.01M1012.3 714.8h.01M987.8 730.4h.01M932.8 723.7h.01M1034.1 719.3h.01M928.4 753.1h.01M928.0 737.3h.01M969.2 742.0h.01M972.6 740.1h.01M1007.7 767.4h.01M938.8 723.4h.01M961.6 737.7h.01M937.5 719.3h.01M1002.1 752.6h.01M1013.8 754.2h.01M989.1 726.2h.01M917.7 730.0h.01M1009.9 743.3h.01M931.3 758.3h.01M992.9 739.9h.01M927.2 734.9h.01M1020.1 756.3h.01M974.6 730.6h.01M962.1 722.2h.01M957.2 732.2h.01M987.5 701.6h.01M933.4 747.7h.01M978.4 720.9h.01M979.9 715.6h.01M988.9 716.2h.01M955.3 730.5h.01M990.7 761.3h.01M942.8 731.2h.01M975.9 746.4h.01M945.7 740.2h.01M941.4 736.2h.01M962.5 771.6h.01M978.8 760.8h.01M944.7 735.4h.01M999.0 742.9h.01M1003.2 695.5h.01M939.6 776.4h.01M983.0 731.2h.01M925.9 733.3h.01M1009.6 751.5h.01M923.9 765.2h.01M933.8 773.4h.01M1011.8 737.8h.01M994.6 760.2h.01M956.1 760.5h.01M960.3 730.8h.01M999.8 753.2h.01M1000.1 762.1h.01M1008.1 747.6h.01M987.8 710.2h.01M944.9 750.2h.01M1008.2 732.4h.01M948.8 720.7h.01M931.7 764.3h.01M995.0 739.8h.01M992.9 709.4h.01M918.0 769.9h.01M999.2 707.6h.01M959.7 751.9h.01M1017.0 693.9h.01M1003.2 769.1h.01M956.2 768.8h.01M956.6 767.3h.01M954.1 740.3h.01M991.5 698.3h.01M967.1 748.4h.01M924.5 773.2h.01M1002.6 736.9h.01M985.8 747.1h.01M1002.8 693.7h.01M980.3 703.8h.01M930.3 729.3h.01M939.8 725.0h.01M970.6 753.5h.01M918.4 759.9h.01M1017.0 749.8h.01M990.3 758.8h.01M921.0 738.4h.01M1016.6 751.6h.01M960.6 765.7h.01M1029.1 708.8h.01M943.7 766.1h.01M1008.6 728.2h.01M988.0 723.4h.01M962.1 728.5h.01M999.4 712.8h.01M925.8 756.7h.01M968.5 717.3h.01M1012.0 748.6h.01M935.5 730.1h.01M920.8 757.7h.01M1007.9 689.7h.01M1016.5 745.2h.01M943.3 754.3h.01M959.0 712.2h.01M1002.3 718.7h.01M1020.4 713.6h.01M947.9 765.8h.01M953.5 720.3h.01M1023.4 745.5h.01M990.9 734.3h.01M999.5 765.3h.01M999.5 703.6h.01M1004.5 709.4h.01M961.0 735.4h.01M926.7 747.9h.01M973.2 767.0h.01M996.8 695.0h.01M939.2 717.2h.01M924.2 743.3h.01M1023.6 719.1h.01M985.3 770.1h.01M1038.3 711.8h.01M978.1 763.1h.01M973.1 698.8h.01M974.9 717.9h.01M930.5 749.4h.01M922.7 734.2h.01M924.3 730.1h.01M981.1 751.7h.01M974.6 751.2h.01M1013.6 713.0h.01M945.9 720.6h.01M936.8 763.4h.01M1002.7 754.3h.01M1011.0 706.1h.01M945.7 764.5h.01M1009.2 699.1h.01M987.6 739.3h.01M948.1 773.7h.01M990.3 714.7h.01M951.7 715.6h.01M953.8 777.2h.01M1007.1 692.7h.01M989.1 762.3h.01M922.1 776.7h.01M1003.0 721.7h.01M973.0 726.4h.01M1005.2 756.4h.01M982.9 753.0h.01M1023.5 742.6h.01M960.2 706.7h.01M954.5 765.7h.01M1021.7 721.7h.01M963.9 754.2h.01M968.4 760.7h.01M936.4 749.9h.01M1015.3 742.3h.01M1018.0 731.9h.01M1031.5 717.0h.01M994.1 768.8h.01M963.9 720.0h.01M1009.6 764.4h.01M1028.5 725.7h.01M955.1 735.4h.01M988.0 751.7h.01M1018.1 747.5h.01M944.0 761.5h.01M1011.2 767.5h.01M1021.1 724.5h.01M1002.1 689.6h.01M933.5 730.8h.01M991.2 741.1h.01M1031.4 733.3h.01M948.7 732.2h.01M926.5 741.9h.01M947.4 738.1h.01M948.1 747.5h.01M973.1 764.1h.01M942.5 779.0h.01M1005.5 747.1h.01M984.4 749.6h.01M974.3 705.8h.01M957.7 756.4h.01M1012.4 707.6h.01M978.3 730.1h.01M920.6 759.4h.01M981.2 724.8h.01M1006.5 710.4h.01M940.2 772.9h.01M968.7 719.6h.01M961.4 752.8h.01M1023.1 714.6h.01M917.3 743.9h.01M947.9 752.3h.01M1005.1 733.0h.01M927.5 765.5h.01M987.6 744.5h.01M924.2 740.9h.01M1031.1 711.6h.01M937.1 769.7h.01M980.3 771.4h.01M965.4 772.2h.01M990.0 719.5h.01M982.6 693.7h.01M1027.8 711.6h.01M952.7 723.9h.01M981.2 736.5h.01M1023.9 738.9h.01M997.3 751.3h.01M959.5 729.4h.01M926.7 768.2h.01M964.3 726.6h.01M997.5 702.7h.01M927.2 759.4h.01M989.8 721.7h.01M972.4 717.5h.01M987.1 696.9h.01M1012.9 743.0h.01M932.7 744.3h.01M922.6 770.1h.01M953.4 747.7h.01M1028.9 730.1h.01M955.1 713.2h.01M940.9 769.8h.01M953.0 718.4h.01M1027.4 700.0h.01M926.5 778.1h.01M1021.8 745.6h.01M979.6 729.2h.01M955.9 777.4h.01M997.1 731.5h.01M1030.2 704.5h.01M926.0 758.4h.01M956.9 739.4h.01M950.8 761.0h.01M972.2 707.6h.01M981.4 700.0h.01M986.0 710.2h.01M935.5 752.4h.01M976.5 708.2h.01M1028.2 739.4h.01M1013.1 762.7h.01M948.8 736.1h.01M1006.3 698.5h.01M966.9 718.2h.01M941.6 732.9h.01M955.1 746.3h.01M931.1 723.9h.01M1031.0 707.9h.01M1016.1 704.1h.01M999.4 709.3h.01M963.2 755.6h.01M1037.4 713.8h.01M919.0 746.1h.01M985.5 755.0h.01M992.4 707.6h.01M955.6 749.2h.01M1014.4 709.2h.01M965.3 710.7h.01M1017.1 734.0h.01M993.5 734.7h.01M1032.1 729.9h.01M965.4 718.0h.01M1005.4 723.9h.01M915.2 743.5h.01M983.0 741.8h.01M971.6 738.9h.01M989.9 693.7h.01M978.5 715.2h.01M963.0 745.7h.01M990.2 708.5h.01M977.5 703.1h.01M982.1 706.3h.01M994.0 711.4h.01M1012.3 760.5h.01M1012.8 751.9h.01M967.0 722.8h.01M1024.0 727.7h.01M998.0 759.5h.01M943.7 719.3h.01M970.8 702.7h.01M1006.8 727.0h.01M929.2 725.7h.01M918.6 735.2h.01M963.0 717.7h.01M982.8 755.7h.01M967.3 737.7h.01M975.7 756.4h.01M969.4 732.3h.01M934.7 725.8h.01M941.3 728.3h.01M995.5 733.1h.01M940.8 759.4h.01M929.1 767.2h.01M1025.0 706.2h.01M934.7 740.7h.01M916.5 736.1h.01M974.6 762.8h.01M935.9 759.1h.01M921.6 736.8h.01M973.6 719.1h.01M950.1 750.1h.01M1018.3 762.1h.01M1028.6 728.3h.01M934.9 768.0h.01M987.2 771.8h.01M960.1 715.4h.01M936.3 765.5h.01M952.9 726.1h.01M1022.1 744.0h.01M916.7 746.6h.01M924.0 734.9h.01M984.5 730.4h.01M931.2 778.5h.01M921.7 749.6h.01M930.8 737.4h.01M1024.4 730.6h.01M984.4 726.2h.01M998.8 716.6h.01M977.1 771.0h.01M979.6 692.5h.01M929.0 733.4h.01M998.9 691.0h.01M1034.2 723.3h.01M924.7 771.4h.01M999.0 728.5h.01M970.0 770.4h.01M980.8 763.7h.01M965.1 741.6h.01M1027.5 718.9h.01M920.0 773.7h.01M912.5 678.8h.01M927.2 684.2h.01M937.2 667.5h.01M957.2 664.7h.01M961.7 645.0h.01M896.7 699.2h.01M1060.5 709.2h.01M1007.2 775.5h.01M911.0 542.3h.01M897.5 587.5h.01M905.8 551.9h.01M904.0 554.0h.01M902.5 556.8h.01M901.9 558.1h.01M900.1 561.8h.01M898.5 564.5h.01M896.9 567.2h.01M895.8 570.0h.01M611.7 663.5h.01M638.6 681.2h.01M613.8 659.0h.01M600.4 664.3h.01M613.0 661.2h.01M613.8 694.6h.01M634.2 669.6h.01M626.6 701.3h.01M618.2 676.3h.01M599.3 683.0h.01M623.1 673.8h.01M655.0 689.9h.01M637.9 675.5h.01M617.3 664.2h.01M646.0 677.2h.01M604.6 674.4h.01M631.4 679.5h.01M634.9 700.8h.01M615.9 693.9h.01M628.4 701.3h.01M601.3 665.7h.01M612.3 695.6h.01M639.2 664.8h.01M639.0 694.2h.01M626.2 678.0h.01M604.3 647.8h.01M628.5 681.2h.01M641.2 658.1h.01M633.3 665.4h.01M630.4 704.8h.01M602.0 657.1h.01M624.9 692.0h.01M627.7 656.4h.01M616.1 653.0h.01M603.7 650.7h.01M621.5 652.2h.01M623.8 651.5h.01M630.1 690.6h.01M630.6 699.9h.01M608.1 688.1h.01M606.1 649.9h.01M597.2 673.9h.01M628.6 678.1h.01M596.0 679.0h.01M626.5 675.1h.01M621.5 690.4h.01M629.7 670.4h.01M630.2 688.6h.01M625.7 682.5h.01M603.9 665.1h.01M602.3 682.9h.01M607.0 690.3h.01M617.6 651.5h.01M624.1 682.5h.01M642.6 705.7h.01M610.1 673.2h.01M622.4 670.4h.01M642.2 676.1h.01M638.4 671.5h.01M599.9 649.5h.01M615.4 683.8h.01M649.5 675.5h.01M650.4 681.2h.01M611.2 680.2h.01M617.2 672.2h.01M628.5 682.9h.01M602.0 688.6h.01M622.0 704.4h.01M616.9 648.5h.01M614.7 675.6h.01M596.7 676.5h.01M609.6 661.2h.01M636.7 706.1h.01M604.5 677.1h.01M620.2 680.0h.01M613.4 654.8h.01M599.5 674.0h.01M651.9 679.5h.01M627.0 664.0h.01M612.5 645.3h.01M606.3 698.1h.01M615.9 698.4h.01M610.7 671.4h.01M614.8 645.5h.01M622.2 663.7h.01M611.7 666.9h.01M623.1 698.9h.01M615.1 664.7h.01M613.3 679.7h.01M617.5 699.7h.01M604.1 669.5h.01M645.0 659.4h.01M620.2 704.0h.01M636.8 670.8h.01M602.9 661.3h.01M600.8 686.7h.01M644.4 683.9h.01M640.7 680.3h.01M609.1 668.0h.01M649.0 682.0h.01M648.4 688.1h.01M602.9 690.8h.01M647.6 671.3h.01M645.7 663.9h.01M643.2 668.7h.01M600.5 676.8h.01M612.6 677.4h.01M617.4 688.2h.01M637.1 657.7h.01M600.9 673.1h.01M616.5 645.7h.01M632.5 660.0h.01M610.4 669.8h.01M620.1 683.0h.01M635.2 698.9h.01M653.6 685.3h.01M618.2 701.4h.01M624.5 664.3h.01M633.6 689.2h.01M640.5 702.9h.01M615.0 651.0h.01M641.8 661.5h.01M626.3 680.0h.01M609.4 680.7h.01M632.7 672.1h.01M608.1 698.2h.01M612.8 652.0h.01M621.1 698.8h.01M605.5 657.5h.01M633.9 684.6h.01M616.8 681.7h.01M617.8 691.0h.01M601.5 701.8h.01M626.1 697.6h.01M629.9 659.5h.01M607.6 663.6h.01M644.4 677.6h.01M600.3 684.9h.01M624.7 658.5h.01M636.9 660.8h.01M622.5 683.2h.01M637.5 668.0h.01M633.8 673.6h.01M625.6 684.4h.01M619.7 693.8h.01M634.3 659.5h.01M604.8 685.3h.01M619.6 662.2h.01M614.8 657.4h.01M641.2 678.6h.01M633.8 687.3h.01M620.8 657.2h.01M643.2 673.5h.01M629.2 698.0h.01M622.0 660.4h.01M601.4 646.3h.01M602.7 646.0h.01M606.3 646.9h.01M611.1 647.6h.01M617.3 646.3h.01M618.0 646.1h.01M625.2 651.0h.01M627.0 653.5h.01M628.1 657.3h.01M636.5 659.3h.01M640.9 658.9h.01M642.4 659.1h.01M646.7 659.8h.01M646.3 662.8h.01M646.9 669.1h.01M649.4 672.3h.01M650.9 680.3h.01M654.5 684.0h.01M655.8 687.9h.01M654.6 688.6h.01M649.2 687.3h.01M645.0 685.5h.01M644.2 685.5h.01M636.0 684.5h.01M635.5 692.4h.01M637.3 694.8h.01M639.1 698.7h.01M640.7 703.0h.01M640.2 704.4h.01M636.2 705.5h.01M633.9 704.9h.01M629.0 703.7h.01M623.4 703.1h.01M619.9 703.5h.01M618.4 702.7h.01M607.4 700.5h.01M601.0 700.8h.01M601.3 701.3h.01M601.1 700.2h.01M605.1 692.0h.01M600.7 688.9h.01M597.4 684.6h.01M594.2 678.1h.01M594.6 678.0h.01M595.8 670.2h.01M598.2 667.4h.01M602.8 659.7h.01M602.1 653.3h.01M600.3 649.6h.01M664.4 703.8h.01M678.1 731.1h.01M672.3 721.7h.01M671.8 706.8h.01M661.6 698.5h.01M677.1 727.5h.01M674.4 709.2h.01M670.0 706.7h.01M671.1 716.8h.01M668.1 708.7h.01M671.7 709.2h.01M674.3 717.6h.01M672.2 711.8h.01M664.8 696.9h.01M666.2 703.5h.01M664.4 700.6h.01M675.8 710.7h.01M667.6 712.2h.01M675.4 721.6h.01M668.9 710.7h.01M669.3 700.6h.01M666.3 705.8h.01M677.1 714.5h.01M673.2 707.7h.01M673.9 721.7h.01M673.7 718.9h.01M673.8 706.3h.01M661.6 698.2h.01M665.8 696.3h.01M667.1 697.5h.01M668.4 699.3h.01M670.8 702.5h.01M674.5 708.2h.01M675.5 711.2h.01M677.3 715.8h.01M677.2 722.2h.01M677.8 726.2h.01M679.7 732.5h.01M677.8 735.8h.01M678.4 734.0h.01M676.3 731.0h.01M674.6 729.1h.01M671.3 725.1h.01M671.7 721.9h.01M671.0 718.5h.01M667.6 714.7h.01M666.4 714.6h.01M665.4 708.2h.01M663.4 702.7h.01M661.8 699.0h.01M651.0 709.0h.01M658.0 706.0h.01M658.0 713.0h.01M665.6 716.6h.01M595.6 721.0h.01M586.0 739.0h.01M584.0 743.0h.01M581.6 746.0h.01M578.0 752.0h.01M578.4 756.0h.01M571.6 758.0h.01M577.0 762.0h.01M573.0 765.0h.01M580.0 767.0h.01M582.0 772.0h.01M600.6 778.0h.01M613.0 778.0h.01M609.0 782.0h.01M611.0 786.0h.01M552.4 790.0h.01M552.0 794.0h.01M726.0 722.6h.01M730.0 719.0h.01M737.0 718.0h.01M732.0 723.0h.01M750.0 792.0h.01M753.0 793.0h.01M747.0 796.0h.01M745.0 800.0h.01M573.6 773.0h.01M543.2 775.5h.01M564.0 770.4h.01M567.2 782.4h.01M559.4 771.7h.01M546.4 764.4h.01M570.8 776.9h.01M545.2 766.9h.01M552.6 780.7h.01M569.3 780.8h.01M569.3 774.3h.01M564.1 773.7h.01M553.2 778.0h.01M573.1 777.7h.01M541.2 771.3h.01M551.2 768.9h.01M553.5 772.0h.01M546.1 772.8h.01M548.5 767.5h.01M561.3 779.8h.01M554.0 764.2h.01M558.7 769.2h.01M556.0 782.2h.01M575.0 772.7h.01M545.6 778.3h.01M569.0 775.8h.01M566.1 772.7h.01M548.3 771.8h.01M554.3 781.5h.01M563.1 776.4h.01M544.6 768.7h.01M541.2 769.0h.01M576.1 771.6h.01M555.5 768.6h.01M571.3 774.3h.01M558.9 782.6h.01M546.9 779.1h.01M544.7 776.4h.01M558.7 765.5h.01M553.3 774.3h.01M570.0 778.2h.01M559.9 766.5h.01M560.1 768.5h.01M560.4 783.4h.01M552.7 770.4h.01M564.9 765.5h.01M551.4 775.9h.01M566.3 769.4h.01M563.7 768.8h.01M562.4 769.6h.01M557.2 766.6h.01M568.1 773.1h.01M556.0 776.0h.01M547.6 769.7h.01M550.0 764.7h.01M542.0 767.7h.01M544.0 765.6h.01M546.1 763.6h.01M554.6 763.9h.01M559.9 765.1h.01M563.1 765.6h.01M565.6 766.6h.01M571.5 770.6h.01M575.3 771.3h.01M577.7 773.5h.01M576.3 774.5h.01M574.2 776.6h.01M571.1 779.6h.01M567.5 781.8h.01M564.8 783.1h.01M561.6 784.0h.01M559.0 782.4h.01M555.3 782.4h.01M551.7 780.9h.01M546.9 779.2h.01M544.9 776.6h.01M542.4 770.8h.01M793.0 785.3h.01M795.9 784.9h.01M800.0 782.0h.01M801.2 784.9h.01M802.3 787.8h.01M807.0 779.1h.01M810.5 777.3h.01M809.3 783.2h.01M804.7 784.3h.01M801.8 793.1h.01M805.8 793.7h.01M808.2 797.2h.01M811.7 796.4h.01M804.7 791.3h.01M807.0 786.7h.01M611.1 842.2h.01M607.1 846.8h.01M611.6 849.0h.01M609.5 843.0h.01M605.5 845.5h.01M609.1 847.4h.01M605.8 844.5h.01M607.9 840.4h.01M609.5 840.3h.01M611.0 839.8h.01M611.4 843.7h.01M610.3 849.1h.01M608.1 846.2h.01M604.9 844.8h.01M634.1 900.5h.01M629.1 899.7h.01M628.2 907.6h.01M622.5 879.2h.01M632.5 913.6h.01M633.6 895.1h.01M629.1 925.9h.01M630.2 905.8h.01M628.6 920.6h.01M638.4 913.5h.01M629.3 901.2h.01M630.1 898.4h.01M614.0 859.0h.01M632.8 901.6h.01M637.7 916.7h.01M630.6 895.2h.01M640.2 912.4h.01M626.5 885.8h.01M635.8 908.3h.01M627.3 883.7h.01M627.0 920.7h.01M634.2 904.6h.01M633.6 909.2h.01M626.8 891.6h.01M630.7 926.9h.01M621.3 875.9h.01M635.2 922.3h.01M638.9 909.7h.01M637.4 910.5h.01M627.7 886.9h.01M625.5 883.9h.01M636.3 903.7h.01M626.4 922.9h.01M627.4 896.1h.01M635.6 899.8h.01M625.1 880.9h.01M632.5 911.1h.01M635.3 913.0h.01M612.8 858.3h.01M613.9 860.2h.01M618.8 872.1h.01M621.5 875.6h.01M623.3 877.5h.01M625.9 882.9h.01M626.3 885.5h.01M630.7 891.3h.01M632.8 895.2h.01M635.6 899.7h.01M638.3 907.8h.01M640.9 909.2h.01M639.6 914.0h.01M639.0 917.3h.01M633.7 921.8h.01M631.5 927.3h.01M630.8 927.3h.01M626.7 927.6h.01M625.0 926.4h.01M625.6 922.2h.01M625.8 921.1h.01M628.1 919.2h.01M633.6 912.2h.01M629.6 907.2h.01M629.1 905.3h.01M628.3 904.2h.01M629.6 897.9h.01M626.5 891.3h.01M625.2 882.5h.01M622.7 878.1h.01M620.6 872.5h.01M616.0 864.8h.01M613.9 859.8h.01M623.7 892.2h.01M613.3 910.5h.01M645.8 917.2h.01M648.3 915.3h.01M651.2 913.3h.01M658.3 916.2h.01M663.0 918.3h.01M682.5 925.8h.01M687.5 928.0h.01M733.3 846.7h.01M719.2 845.3h.01M737.6 849.0h.01M716.1 841.4h.01M710.0 852.1h.01M708.9 836.5h.01M718.6 854.1h.01M723.4 843.5h.01M736.3 843.5h.01M722.6 856.2h.01M715.7 861.2h.01M727.1 850.2h.01M696.4 853.8h.01M711.3 848.4h.01M722.0 847.2h.01M697.7 847.9h.01M717.6 845.4h.01M714.7 848.2h.01M724.2 849.0h.01M702.3 859.6h.01M720.6 839.9h.01M720.7 861.2h.01M729.5 853.6h.01M703.8 858.8h.01M733.8 855.1h.01M713.4 853.9h.01M700.8 856.2h.01M696.7 849.3h.01M726.9 842.0h.01M702.7 857.8h.01M710.6 841.8h.01M711.2 840.1h.01M732.1 853.9h.01M737.3 855.0h.01M715.3 844.5h.01M723.9 855.4h.01M727.4 855.5h.01M705.5 861.6h.01M722.9 859.1h.01M730.3 848.4h.01M718.3 842.0h.01M738.7 842.9h.01M702.5 850.5h.01M738.1 851.0h.01M694.4 851.9h.01M710.7 861.1h.01M725.2 857.8h.01M734.4 849.6h.01M707.5 858.5h.01M734.6 853.9h.01M727.9 857.8h.01M723.9 839.3h.01M711.8 859.5h.01M725.4 839.4h.01M698.6 851.1h.01M738.3 847.5h.01M701.2 845.5h.01M705.2 848.0h.01M707.5 843.9h.01M728.5 843.8h.01M713.2 855.3h.01M714.6 852.4h.01M705.6 844.6h.01M731.3 851.9h.01M720.0 852.4h.01M709.7 837.9h.01M704.7 851.6h.01M735.0 851.1h.01M711.4 851.6h.01M698.1 854.4h.01M731.0 844.6h.01M722.2 851.1h.01M724.7 845.4h.01M712.6 845.1h.01M711.2 856.3h.01M741.0 846.2h.01M709.7 845.2h.01M704.1 855.5h.01M708.9 831.7h.01M731.0 846.6h.01M718.6 843.9h.01M707.6 848.3h.01M719.6 855.4h.01M713.0 843.5h.01M713.8 849.5h.01M706.4 856.6h.01M704.6 860.3h.01M742.8 845.4h.01M726.2 852.7h.01M707.0 845.6h.01M706.2 853.9h.01M694.6 848.5h.01M698.1 845.0h.01M699.0 844.0h.01M705.7 844.1h.01M708.0 834.9h.01M706.3 830.6h.01M707.2 830.9h.01M706.8 830.2h.01M711.1 834.7h.01M711.7 836.9h.01M717.2 841.8h.01M724.2 839.7h.01M728.1 841.1h.01M735.5 842.6h.01M737.6 842.3h.01M744.8 843.0h.01M744.9 842.9h.01M744.5 843.3h.01M742.7 846.0h.01M739.1 852.0h.01M737.9 853.3h.01M733.7 857.0h.01M728.7 858.6h.01M723.3 860.5h.01M719.4 861.5h.01M717.4 862.1h.01M708.4 860.9h.01M703.8 861.1h.01M698.0 857.6h.01M697.7 856.9h.01M693.9 851.7h.01M711.9 951.2h.01M717.0 950.7h.01M719.5 947.2h.01M719.2 938.9h.01M714.1 950.3h.01M716.3 939.4h.01M712.5 945.5h.01M712.5 936.2h.01M710.4 937.8h.01M716.2 947.3h.01M715.3 943.9h.01M723.2 938.0h.01M719.4 936.7h.01M702.2 935.0h.01M724.0 944.0h.01M705.4 935.5h.01M721.7 939.8h.01M714.3 946.8h.01M727.2 941.8h.01M715.3 936.2h.01M723.3 945.4h.01M699.1 934.1h.01M704.0 935.1h.01M709.8 934.1h.01M713.0 933.8h.01M719.4 935.8h.01M725.3 938.0h.01M727.9 941.3h.01M726.1 942.7h.01M721.8 946.0h.01M716.7 950.5h.01M714.5 952.1h.01M713.3 951.8h.01M712.6 949.5h.01M712.0 947.0h.01M711.2 941.2h.01M706.7 936.4h.01M701.5 933.5h.01M699.6 933.4h.01M655.0 979.2h.01M660.8 985.0h.01M658.3 984.2h.01M356.5 769.3h.01M337.1 758.5h.01M373.1 765.3h.01M355.0 779.7h.01M367.3 781.6h.01M370.7 767.9h.01M380.3 781.2h.01M343.7 723.4h.01M347.0 741.3h.01M357.9 759.6h.01M358.6 774.3h.01M344.1 733.5h.01M379.1 779.0h.01M360.8 774.5h.01M335.2 753.1h.01M366.4 764.4h.01M339.0 772.1h.01M345.4 728.4h.01M368.5 777.4h.01M341.8 727.5h.01M328.9 736.9h.01M329.7 752.5h.01M351.1 728.1h.01M371.4 773.3h.01M357.3 756.6h.01M322.6 779.8h.01M351.6 753.0h.01M330.4 736.6h.01M361.5 769.8h.01M349.5 769.6h.01M341.8 736.6h.01M325.8 739.4h.01M348.9 775.6h.01M326.8 736.1h.01M349.7 746.4h.01M330.6 778.6h.01M367.7 784.1h.01M337.4 737.8h.01M350.0 752.4h.01M341.7 764.2h.01M343.5 752.5h.01M342.9 762.8h.01M326.9 774.6h.01M346.3 723.6h.01M375.4 776.4h.01M330.5 748.8h.01M353.9 783.7h.01M347.1 725.4h.01M345.7 756.5h.01M334.6 744.8h.01M341.1 782.0h.01M329.8 773.2h.01M381.8 777.8h.01M360.7 779.7h.01M348.2 726.9h.01M341.2 741.8h.01M341.3 776.5h.01M339.4 737.7h.01M351.8 782.8h.01M369.2 765.6h.01M348.6 750.2h.01M351.8 776.0h.01M320.9 740.9h.01M337.9 743.7h.01M329.1 730.0h.01M330.8 730.3h.01M353.4 773.1h.01M325.2 750.4h.01M378.8 769.9h.01M323.9 748.7h.01M360.5 745.1h.01M372.9 778.7h.01M358.8 777.8h.01M329.3 760.3h.01M348.5 735.9h.01M355.5 763.6h.01M355.9 733.4h.01M377.9 768.7h.01M340.9 732.4h.01M353.3 745.6h.01M336.5 772.9h.01M332.8 738.3h.01M338.0 775.9h.01M343.6 745.4h.01M348.3 743.2h.01M329.0 757.8h.01M346.6 732.4h.01M341.4 724.6h.01M337.7 756.3h.01M347.0 773.0h.01M322.6 777.6h.01M336.1 740.5h.01M331.3 773.0h.01M323.9 735.6h.01M322.8 747.1h.01M345.8 726.8h.01M345.7 766.3h.01M345.0 778.6h.01M357.1 776.1h.01M376.4 781.0h.01M331.0 734.6h.01M341.8 730.6h.01M333.8 734.7h.01M349.4 721.4h.01M352.5 758.8h.01M339.2 759.3h.01M338.1 730.2h.01M328.4 733.1h.01M354.5 770.7h.01M337.9 767.8h.01M335.3 776.6h.01M348.1 781.3h.01M352.5 730.1h.01M352.6 750.7h.01M363.7 766.4h.01M331.0 732.8h.01M343.4 769.1h.01M357.4 745.2h.01M341.5 749.3h.01M339.2 778.8h.01M353.8 747.9h.01M356.3 771.5h.01M348.2 763.3h.01M355.1 738.1h.01M338.9 761.2h.01M353.2 781.8h.01M322.4 741.9h.01M320.8 738.4h.01M347.3 748.4h.01M339.3 768.6h.01M332.7 756.1h.01M356.2 759.2h.01M355.0 765.8h.01M379.9 783.0h.01M380.5 775.0h.01M365.2 753.9h.01M346.5 743.7h.01M341.4 745.5h.01M350.9 784.1h.01M352.1 761.0h.01M326.8 777.7h.01M346.7 745.4h.01M354.3 734.0h.01M332.0 760.0h.01M363.7 780.3h.01M370.9 778.0h.01M327.1 743.4h.01M344.9 770.2h.01M337.3 727.4h.01M351.8 741.6h.01M335.1 736.7h.01M372.2 774.7h.01M362.9 752.9h.01M362.9 782.1h.01M351.0 722.9h.01M321.6 738.0h.01M323.1 734.3h.01M322.2 733.4h.01M330.5 729.6h.01M334.9 723.5h.01M338.8 720.3h.01M340.0 720.3h.01M347.1 722.8h.01M349.9 723.2h.01M354.5 729.4h.01M356.1 730.2h.01M356.8 730.8h.01M354.7 740.5h.01M358.3 745.0h.01M362.3 748.7h.01M367.7 753.9h.01M363.9 757.5h.01M365.9 763.8h.01M372.8 766.3h.01M375.8 768.5h.01M377.9 772.1h.01M381.0 778.1h.01M381.8 782.7h.01M377.3 783.3h.01M371.3 783.4h.01M366.8 783.2h.01M361.4 782.8h.01M353.7 782.3h.01M348.8 783.3h.01M342.1 781.7h.01M335.6 780.8h.01M329.5 780.7h.01M322.1 778.7h.01M324.1 777.9h.01M326.8 775.6h.01M331.6 773.5h.01M336.2 770.5h.01M337.1 761.9h.01M329.1 759.0h.01M326.9 755.4h.01M321.8 750.6h.01M323.2 748.5h.01M322.7 742.1h.01M336.7 838.1h.01M315.0 831.1h.01M337.3 799.0h.01M374.6 789.8h.01M349.2 802.0h.01M370.1 801.9h.01M357.1 816.5h.01M351.7 827.4h.01M334.6 844.3h.01M293.4 824.2h.01M368.9 844.7h.01M362.9 808.9h.01M343.3 829.0h.01M296.7 837.9h.01M288.9 825.1h.01M334.3 822.1h.01M378.3 842.5h.01M351.3 821.3h.01M359.8 836.8h.01M313.7 817.7h.01M333.7 829.5h.01M382.3 817.1h.01M330.8 783.0h.01M337.3 811.2h.01M346.3 840.6h.01M344.7 802.3h.01M381.4 844.9h.01M308.2 856.5h.01M332.0 786.6h.01M348.9 827.7h.01M351.5 839.5h.01M320.3 859.9h.01M367.8 790.1h.01M349.6 794.1h.01M323.7 809.4h.01M342.7 790.5h.01M355.5 834.4h.01M390.5 815.9h.01M348.1 847.6h.01M376.2 842.0h.01M392.8 828.7h.01M321.0 809.1h.01M356.6 843.2h.01M354.8 784.6h.01M316.2 814.9h.01M368.1 831.8h.01M359.6 846.5h.01M316.6 843.7h.01M380.9 840.4h.01M317.5 861.9h.01M328.0 830.7h.01M326.0 820.3h.01M377.5 832.1h.01M373.2 839.3h.01M355.9 793.8h.01M382.6 811.5h.01M307.7 843.6h.01M334.2 838.5h.01M338.3 804.7h.01M356.3 792.2h.01M315.8 785.5h.01M356.6 788.5h.01M310.0 860.3h.01M368.4 850.0h.01M353.0 795.5h.01M375.3 847.3h.01M323.6 812.4h.01M320.1 842.7h.01M295.6 849.0h.01M339.8 818.0h.01M333.7 813.1h.01M324.8 821.0h.01M345.8 819.0h.01M290.2 821.5h.01M336.1 807.9h.01M382.2 797.7h.01M333.9 848.1h.01M358.3 857.7h.01M309.6 795.2h.01M378.7 847.0h.01M312.4 822.0h.01M308.0 820.8h.01M337.0 787.3h.01M305.8 836.5h.01M335.8 819.1h.01M346.5 833.7h.01M295.5 846.1h.01M354.6 830.1h.01M327.5 803.5h.01M368.0 820.2h.01M316.8 850.3h.01M335.2 836.6h.01M319.6 782.2h.01M380.3 815.2h.01M298.5 847.5h.01M314.3 849.5h.01M353.4 851.4h.01M313.8 860.8h.01M348.3 816.1h.01M354.2 786.4h.01M341.6 817.3h.01M354.8 815.8h.01M329.0 825.9h.01M368.9 794.9h.01M357.7 830.2h.01M295.8 824.7h.01M349.8 822.9h.01M308.1 815.5h.01M313.2 832.0h.01M324.1 802.0h.01M377.2 840.6h.01M349.8 818.7h.01M307.3 811.5h.01M346.5 850.0h.01M346.4 843.6h.01M387.7 842.1h.01M354.8 822.9h.01M324.9 832.8h.01M351.7 840.9h.01M314.7 856.8h.01M302.7 811.6h.01M309.6 800.5h.01M353.6 849.5h.01M317.4 837.2h.01M313.1 840.4h.01M323.6 788.6h.01M303.6 855.8h.01M337.3 801.2h.01M331.8 812.0h.01M362.1 813.0h.01M350.9 853.0h.01M299.3 817.2h.01M329.1 813.0h.01M321.1 852.8h.01M352.0 798.8h.01M328.7 856.9h.01M300.7 826.6h.01M337.8 826.4h.01M378.4 801.1h.01M345.8 793.0h.01M339.5 785.3h.01M298.5 828.2h.01M366.3 828.1h.01M336.5 784.5h.01M366.6 811.2h.01M332.3 818.1h.01M317.6 845.5h.01M337.7 792.1h.01M297.1 840.7h.01M336.4 862.1h.01M309.7 858.3h.01M326.7 847.1h.01M326.8 789.7h.01M349.5 820.4h.01M339.0 783.8h.01M363.4 816.1h.01M301.6 850.3h.01M333.8 835.3h.01M348.0 830.6h.01M379.1 808.4h.01M376.3 827.1h.01M327.0 816.4h.01M377.1 803.5h.01M322.0 821.6h.01M386.5 824.4h.01M330.9 793.5h.01M364.7 830.6h.01M298.1 824.7h.01M314.4 799.9h.01M383.5 808.3h.01M313.9 807.2h.01M352.9 834.3h.01M319.6 824.9h.01M360.5 820.4h.01M390.0 841.5h.01M354.2 807.8h.01M320.0 802.2h.01M313.3 815.4h.01M325.6 788.9h.01M362.0 845.3h.01M317.6 853.5h.01M371.7 802.8h.01M307.1 817.7h.01M341.0 827.3h.01M335.0 797.4h.01M385.3 829.1h.01M385.8 803.3h.01M363.5 820.2h.01M346.8 821.9h.01M359.4 856.0h.01M375.8 834.6h.01M305.8 849.8h.01M301.6 832.8h.01M323.8 855.6h.01M361.6 819.4h.01M310.7 828.4h.01M337.8 840.7h.01M367.8 814.2h.01M339.3 788.3h.01M313.8 842.5h.01M383.4 827.0h.01M322.8 832.8h.01M344.5 811.7h.01M342.4 859.2h.01M313.2 812.8h.01M352.7 846.1h.01M323.7 800.3h.01M379.5 835.5h.01M300.4 843.6h.01M329.5 800.7h.01M340.8 805.5h.01M387.8 808.3h.01M319.3 829.5h.01M377.6 824.4h.01M292.4 845.9h.01M374.4 798.6h.01M299.0 819.9h.01M356.4 824.7h.01M324.5 815.3h.01M369.1 797.8h.01M317.4 825.6h.01M379.9 825.5h.01M303.2 849.2h.01M302.7 827.1h.01M324.6 824.7h.01M357.0 800.7h.01M340.8 824.0h.01M301.3 841.2h.01M386.3 830.8h.01M382.2 830.6h.01M330.5 821.5h.01M343.4 831.1h.01M318.1 793.9h.01M344.4 790.6h.01M319.0 785.2h.01M324.7 861.3h.01M335.5 823.9h.01M379.8 843.0h.01M389.1 829.6h.01M305.4 830.0h.01M352.8 848.0h.01M367.3 839.8h.01M316.1 799.5h.01M321.2 815.9h.01M305.0 838.1h.01M373.9 827.3h.01M333.0 797.1h.01M372.5 792.5h.01M309.0 807.9h.01M343.5 853.1h.01M369.8 822.0h.01M360.0 806.2h.01M307.5 829.5h.01M328.1 809.5h.01M340.5 854.2h.01M347.9 792.4h.01M374.6 812.8h.01M383.4 815.1h.01M320.1 834.6h.01M340.2 822.0h.01M362.0 785.1h.01M325.7 822.7h.01M372.4 831.0h.01M333.3 803.6h.01M379.0 822.0h.01M320.0 848.7h.01M326.1 818.6h.01M299.6 845.9h.01M347.4 797.8h.01M339.8 857.7h.01M317.5 828.7h.01M295.8 818.8h.01M371.7 793.7h.01M294.3 825.9h.01M360.5 786.5h.01M304.7 847.1h.01M325.7 809.4h.01M306.2 810.6h.01M337.1 797.3h.01M362.3 823.7h.01M362.3 832.1h.01M333.4 800.2h.01M382.8 807.1h.01M326.9 787.1h.01M378.3 796.7h.01M324.0 847.0h.01M349.8 842.1h.01M315.1 821.5h.01M355.2 820.0h.01M321.5 801.7h.01M355.7 798.7h.01M355.9 831.3h.01M327.0 837.2h.01M344.0 827.4h.01M350.2 808.8h.01M318.8 783.4h.01M338.4 809.8h.01M310.9 832.3h.01M357.0 799.2h.01M388.8 837.6h.01M300.9 829.8h.01M330.3 799.2h.01M307.7 855.2h.01M305.8 808.9h.01M313.5 858.9h.01M328.2 782.6h.01M384.1 838.9h.01M308.1 851.5h.01M362.9 825.6h.01M335.9 826.5h.01M349.9 817.0h.01M371.4 844.4h.01M336.1 801.9h.01M330.4 785.0h.01M375.4 803.5h.01M314.4 825.0h.01M358.7 841.1h.01M384.5 842.4h.01M347.8 858.8h.01M339.6 859.8h.01M364.0 821.7h.01M346.8 785.0h.01M329.4 803.1h.01M343.5 815.1h.01M318.5 843.7h.01M310.8 822.7h.01M343.0 849.4h.01M345.6 788.4h.01M301.6 815.1h.01M351.5 832.7h.01M298.2 850.4h.01M385.3 810.6h.01M317.6 797.0h.01M337.8 850.1h.01M338.8 853.5h.01M352.4 837.5h.01M325.1 859.0h.01M348.9 787.5h.01M339.9 790.2h.01M341.5 786.7h.01M318.8 811.3h.01M300.2 854.3h.01M339.1 802.5h.01M330.5 832.9h.01M336.8 794.6h.01M334.8 786.8h.01M308.8 789.7h.01M337.3 845.1h.01M319.0 837.7h.01M366.8 796.0h.01M303.6 817.9h.01M338.0 785.5h.01M366.5 792.9h.01M327.0 829.1h.01M310.0 833.9h.01M315.8 862.3h.01M308.9 853.4h.01M365.6 796.9h.01M367.5 818.2h.01M344.8 809.9h.01M308.4 842.3h.01M380.8 784.8h.01M309.5 803.5h.01M371.9 810.3h.01M354.1 811.8h.01M362.9 847.6h.01M335.6 829.0h.01M335.9 834.2h.01M340.0 845.3h.01M362.6 849.1h.01M380.1 832.9h.01M326.4 861.6h.01M325.1 840.1h.01M340.8 850.9h.01M369.6 817.9h.01M343.4 799.6h.01M309.8 811.8h.01M326.0 785.4h.01M312.1 843.3h.01M331.3 837.2h.01M324.9 817.8h.01M363.4 798.2h.01M368.1 838.0h.01M349.0 783.3h.01M354.8 838.1h.01M374.1 792.1h.01M303.4 829.0h.01M325.3 830.9h.01M386.1 805.9h.01M328.1 824.8h.01M350.0 825.8h.01M328.7 795.5h.01M334.6 831.2h.01M321.7 836.4h.01M309.0 835.5h.01M335.1 783.4h.01M314.9 811.6h.01M312.6 792.5h.01M314.8 787.9h.01M342.2 795.8h.01M339.0 823.1h.01M308.7 828.1h.01M297.7 836.8h.01M335.3 863.4h.01M378.6 793.0h.01M371.6 807.9h.01M329.6 794.3h.01M309.5 831.3h.01M321.4 843.5h.01M358.4 815.1h.01M335.4 847.0h.01M385.9 808.2h.01M311.5 835.6h.01M340.9 843.0h.01M315.6 789.2h.01M380.5 823.2h.01M323.2 836.0h.01M302.6 813.5h.01M359.4 819.1h.01M333.6 863.4h.01M330.7 829.0h.01M321.7 794.0h.01M323.1 852.0h.01M344.4 825.9h.01M321.6 811.1h.01M363.9 813.8h.01M309.6 791.5h.01M297.2 831.3h.01M373.2 815.4h.01M347.8 842.7h.01M313.5 837.5h.01M389.9 834.0h.01M355.7 812.4h.01M351.3 790.0h.01M329.5 861.1h.01M379.6 804.4h.01M312.4 789.7h.01M367.4 800.0h.01M311.2 838.3h.01M378.9 819.6h.01M322.3 781.3h.01M341.8 792.8h.01M324.6 786.8h.01M390.7 843.2h.01M365.8 826.0h.01M372.2 822.0h.01M324.6 844.7h.01M355.6 842.0h.01M330.7 807.1h.01M367.8 824.2h.01M312.7 829.5h.01M370.5 799.7h.01M313.1 826.3h.01M317.3 792.2h.01M391.8 835.0h.01M303.3 831.3h.01M377.0 805.3h.01M390.1 824.6h.01M339.2 796.9h.01M381.0 842.1h.01M305.1 823.8h.01M355.2 851.2h.01M329.0 862.6h.01M339.2 832.2h.01M370.8 820.4h.01M319.4 841.4h.01M367.5 836.6h.01M360.9 807.7h.01M295.1 822.5h.01M352.7 854.2h.01M360.2 815.4h.01M351.1 813.6h.01M347.6 799.2h.01M337.9 851.7h.01M385.3 822.7h.01M359.9 792.0h.01M381.4 824.9h.01M335.5 856.0h.01M315.0 819.1h.01M369.8 791.5h.01M297.7 833.4h.01M356.3 803.2h.01M371.3 796.6h.01M339.5 791.9h.01M306.4 842.3h.01M366.0 805.0h.01M321.5 823.7h.01M302.5 823.0h.01M290.1 824.0h.01M382.1 800.8h.01M382.6 844.1h.01M387.9 825.4h.01M351.4 819.5h.01M356.8 854.3h.01M377.5 818.9h.01M352.5 844.6h.01M345.9 825.6h.01M357.1 795.4h.01M375.3 794.1h.01M380.3 812.7h.01M338.7 821.7h.01M330.8 856.8h.01M310.3 824.5h.01M336.2 804.1h.01M360.2 794.3h.01M343.3 845.4h.01M376.1 838.9h.01M294.0 834.4h.01M379.2 840.2h.01M321.8 827.1h.01M334.3 808.9h.01M332.4 782.9h.01M381.1 818.7h.01M304.5 816.4h.01M294.3 831.8h.01M315.3 807.7h.01M335.2 849.1h.01M375.6 824.5h.01M317.4 801.6h.01M328.6 820.0h.01M347.7 788.8h.01M330.6 854.4h.01M388.7 820.8h.01M314.8 848.0h.01M334.2 816.0h.01M311.6 802.4h.01M299.6 824.4h.01M331.5 823.0h.01M327.2 832.3h.01M343.2 806.3h.01M306.4 852.6h.01M352.9 811.1h.01M359.9 798.4h.01M358.9 833.3h.01M356.2 790.0h.01M310.5 846.3h.01M375.2 806.1h.01M346.1 860.9h.01M344.1 841.2h.01M299.3 841.0h.01M331.3 791.1h.01M372.6 848.3h.01M361.6 840.5h.01M367.0 835.2h.01M341.2 833.8h.01M314.3 804.2h.01M364.0 841.3h.01M358.1 822.0h.01M309.4 855.7h.01M343.9 783.3h.01M296.1 834.4h.01M300.6 817.8h.01M371.5 846.6h.01M370.5 835.3h.01M379.1 798.5h.01M357.2 847.9h.01M361.0 800.5h.01M358.0 844.9h.01M366.6 846.1h.01M339.0 806.8h.01M343.7 857.8h.01M374.0 833.3h.01M359.2 827.6h.01M381.4 802.1h.01M371.2 841.2h.01M345.3 807.8h.01M332.2 813.5h.01M312.5 807.6h.01M332.8 849.8h.01M311.6 860.0h.01M378.6 827.6h.01M374.7 800.0h.01M359.7 812.5h.01M296.3 836.0h.01M369.2 824.9h.01M315.2 802.6h.01M311.7 827.3h.01M369.7 813.9h.01M347.3 806.5h.01M371.8 798.9h.01M325.0 826.5h.01M335.3 811.1h.01M293.3 822.1h.01M341.4 844.3h.01M323.3 826.6h.01M348.9 844.3h.01M341.4 815.3h.01M301.7 855.6h.01M325.6 812.2h.01M366.0 820.9h.01M353.7 788.7h.01M328.6 789.2h.01M307.9 858.8h.01M304.8 843.5h.01M294.2 828.2h.01M349.6 847.3h.01M383.7 836.3h.01M387.1 826.9h.01M333.2 806.7h.01M323.7 840.8h.01M363.9 802.1h.01M378.6 836.9h.01M358.2 849.4h.01M350.3 844.7h.01M360.0 854.2h.01M339.1 830.5h.01M308.1 812.8h.01M350.7 802.9h.01M317.2 857.4h.01M352.2 792.0h.01M328.3 816.9h.01M386.7 843.9h.01M369.6 789.6h.01M305.4 840.9h.01M325.1 807.2h.01M353.1 802.0h.01M370.3 828.2h.01M328.9 852.4h.01M313.4 855.2h.01M322.8 854.0h.01M343.0 835.5h.01M342.8 822.3h.01M350.1 785.8h.01M348.7 810.1h.01M307.6 838.7h.01M377.0 794.2h.01M288.5 823.1h.01M293.8 819.4h.01M296.3 815.4h.01M300.5 809.6h.01M305.6 806.6h.01M310.0 800.4h.01M308.8 793.7h.01M307.7 790.8h.01M308.6 789.2h.01M313.9 786.6h.01M320.1 782.3h.01M322.5 780.9h.01M328.2 780.9h.01M334.8 782.5h.01M339.1 783.3h.01M342.1 782.8h.01M348.1 783.3h.01M352.1 784.4h.01M355.9 784.1h.01M361.1 784.8h.01M366.2 786.3h.01M369.0 786.0h.01M374.7 785.9h.01M379.0 784.6h.01M382.1 788.9h.01M381.7 796.4h.01M385.8 801.7h.01M387.3 805.0h.01M388.7 809.0h.01M390.5 816.1h.01M390.5 818.5h.01M392.9 825.0h.01M391.9 831.3h.01M392.5 836.6h.01M392.3 841.4h.01M391.7 843.5h.01M385.8 843.7h.01M380.7 846.5h.01M375.0 847.2h.01M369.6 849.1h.01M364.7 852.4h.01M359.2 856.7h.01M358.6 857.1h.01M349.0 859.2h.01M344.1 860.1h.01M336.9 863.4h.01M331.7 865.0h.01M330.9 865.8h.01M321.7 864.0h.01M315.3 862.9h.01M310.2 860.0h.01M305.4 858.5h.01M301.1 856.2h.01M298.5 853.9h.01M296.2 851.6h.01M294.8 847.4h.01M293.8 841.2h.01M294.4 835.0h.01M291.0 829.4h.01M288.5 825.4h.01M288.5 823.5h.01M400.4 824.1h.01M394.8 821.1h.01M407.4 832.9h.01M414.8 832.2h.01M398.5 836.7h.01M394.5 837.8h.01M401.2 836.8h.01M408.4 822.4h.01M402.8 813.7h.01M399.5 820.9h.01M403.0 838.7h.01M411.2 840.8h.01M394.6 825.2h.01M396.7 819.1h.01M398.1 806.3h.01M403.1 823.0h.01M412.1 823.6h.01M398.3 830.0h.01M408.7 826.9h.01M401.8 829.5h.01M403.7 830.9h.01M405.3 838.3h.01M407.4 817.4h.01M401.4 818.1h.01M408.1 824.8h.01M398.8 834.3h.01M394.2 817.9h.01M397.3 824.9h.01M409.7 813.9h.01M408.4 829.8h.01M400.9 820.4h.01M408.2 809.1h.01M412.0 813.9h.01M398.2 815.5h.01M413.4 838.3h.01M390.2 805.0h.01M393.3 812.7h.01M405.4 822.2h.01M396.6 832.3h.01M409.7 837.7h.01M400.7 835.3h.01M401.2 831.1h.01M394.1 804.5h.01M394.2 803.9h.01M398.1 805.8h.01M404.6 809.6h.01M409.0 810.9h.01M410.5 814.9h.01M414.8 822.7h.01M415.4 824.3h.01M413.9 833.5h.01M414.5 837.0h.01M414.8 837.3h.01M409.8 840.1h.01M405.6 839.6h.01M400.0 835.9h.01M395.1 837.3h.01M395.7 831.4h.01M396.6 824.3h.01M395.1 818.5h.01M393.6 813.2h.01M392.4 808.1h.01M364.7 720.0h.01M365.0 722.5h.01M365.5 729.7h.01M370.5 723.3h.01M374.2 725.0h.01M376.7 727.5h.01M378.3 730.8h.01M371.7 735.0h.01M375.8 736.7h.01M380.0 738.3h.01M385.0 736.7h.01M389.2 734.2h.01M387.5 731.3h.01M388.7 743.3h.01M387.5 748.3h.01M388.3 753.3h.01M381.3 748.8h.01M374.7 747.5h.01M375.0 751.7h.01M375.3 755.8h.01M386.7 760.0h.01M381.3 764.2h.01M374.7 762.5h.01M390.8 764.2h.01M394.2 766.7h.01M396.7 770.8h.01M400.8 766.7h.01M402.5 771.3h.01M399.2 775.0h.01M403.3 778.3h.01M400.8 781.7h.01M398.3 785.0h.01M403.3 788.3h.01M409.2 795.3h.01M406.7 792.5h.01M395.8 799.2h.01M390.0 790.8h.01M393.3 793.3h.01M318.3 750.8h.01M318.3 758.8h.01M314.2 771.3h.01M317.5 768.7h.01M306.7 784.2h.01M306.7 795.5h.01M300.3 806.7h.01M295.8 812.2h.01M405.0 847.8h.01M412.0 841.3h.01M419.2 839.2h.01M386.7 855.3h.01M380.0 853.3h.01M379.2 859.2h.01M373.3 857.5h.01M360.8 858.3h.01M387.5 863.0h.01M393.3 866.7h.01M349.2 863.3h.01M347.5 868.3h.01M447.9 853.6h.01M449.2 840.7h.01M446.1 835.0h.01M432.2 826.9h.01M445.5 850.2h.01M451.6 840.6h.01M456.4 854.7h.01M428.6 831.9h.01M454.2 844.9h.01M465.4 863.9h.01M458.0 847.6h.01M426.0 830.4h.01M467.4 860.7h.01M459.9 858.6h.01M467.3 856.8h.01M456.0 847.4h.01M467.5 858.2h.01M437.3 833.5h.01M445.6 842.6h.01M446.7 845.1h.01M458.6 852.6h.01M457.1 845.2h.01M431.8 825.4h.01M452.3 841.9h.01M464.7 848.8h.01M443.3 850.0h.01M448.8 849.9h.01M468.2 864.2h.01M452.1 848.7h.01M429.6 830.6h.01M442.6 837.7h.01M452.1 850.9h.01M461.8 850.1h.01M458.4 843.4h.01M441.2 838.0h.01M431.2 835.8h.01M438.6 831.7h.01M456.7 848.8h.01M436.9 841.3h.01M434.0 836.6h.01M444.3 845.0h.01M459.4 854.2h.01M450.2 854.2h.01M463.0 859.7h.01M424.2 822.3h.01M439.1 840.6h.01M450.7 838.2h.01M455.6 852.9h.01M464.2 854.2h.01M459.6 846.5h.01M453.8 849.2h.01M463.1 848.1h.01M457.4 841.7h.01M465.8 854.2h.01M449.6 843.2h.01M456.7 850.3h.01M442.3 842.7h.01M454.5 846.5h.01M433.2 829.5h.01M438.1 843.6h.01M435.2 834.0h.01M434.5 841.2h.01M451.3 844.1h.01M460.9 855.0h.01M446.6 853.1h.01M427.4 822.9h.01M457.1 857.2h.01M459.2 841.7h.01M464.3 844.5h.01M440.6 848.2h.01M465.3 862.0h.01M438.3 841.9h.01M446.7 839.0h.01M421.4 820.7h.01M423.5 820.5h.01M429.3 823.8h.01M434.6 827.6h.01M439.1 830.8h.01M442.3 833.3h.01M447.5 836.2h.01M455.1 840.1h.01M459.4 841.7h.01M467.3 843.6h.01M468.0 845.2h.01M467.6 850.5h.01M468.1 855.2h.01M467.7 858.0h.01M467.8 862.4h.01M467.1 867.1h.01M465.2 863.4h.01M461.6 859.3h.01M452.9 856.5h.01M448.7 854.1h.01M445.2 852.9h.01M438.8 849.1h.01M438.4 847.0h.01M435.6 841.9h.01M431.8 836.0h.01M429.0 833.3h.01M424.4 829.6h.01M422.4 826.6h.01M421.7 820.4h.01M446.7 860.8h.01M456.7 865.0h.01M462.2 871.3h.01M435.0 848.0h.01M489.8 871.7h.01M473.4 858.7h.01M505.7 878.8h.01M473.3 848.6h.01M498.1 870.2h.01M469.6 860.2h.01M503.3 875.2h.01M481.8 859.3h.01M488.5 875.2h.01M500.4 876.9h.01M492.4 879.1h.01M502.7 876.6h.01M470.1 846.1h.01M479.9 865.7h.01M481.3 869.6h.01M503.8 878.9h.01M506.3 873.5h.01M472.8 862.4h.01M469.8 849.3h.01M504.8 876.7h.01M513.7 876.8h.01M506.1 875.5h.01M468.3 862.7h.01M497.9 884.9h.01M499.8 871.0h.01M498.4 875.8h.01M495.1 876.1h.01M493.1 865.2h.01M469.3 856.6h.01M487.1 868.9h.01M468.8 845.1h.01M476.4 865.0h.01M495.1 865.6h.01M496.4 878.6h.01M472.8 864.4h.01M493.7 868.6h.01M475.1 850.3h.01M500.1 881.3h.01M472.7 868.2h.01M481.7 873.9h.01M498.5 868.9h.01M468.9 858.8h.01M501.3 872.9h.01M496.7 880.8h.01M494.3 879.8h.01M477.3 856.8h.01M474.1 866.0h.01M510.4 874.7h.01M493.8 878.3h.01M479.6 861.4h.01M475.7 854.2h.01M489.8 867.1h.01M468.6 852.4h.01M472.7 854.7h.01M509.5 878.4h.01M473.3 861.1h.01M505.7 883.1h.01M502.4 880.8h.01M485.1 875.0h.01M496.7 871.1h.01M495.3 873.2h.01M470.5 854.1h.01M486.7 877.6h.01M474.9 869.1h.01M469.6 845.5h.01M474.8 849.9h.01M477.9 853.0h.01M479.3 856.4h.01M480.8 858.6h.01M483.1 863.9h.01M488.6 867.2h.01M492.4 865.7h.01M494.3 865.6h.01M500.3 870.4h.01M504.4 873.3h.01M509.4 875.6h.01M512.9 877.2h.01M511.7 878.2h.01M508.0 881.2h.01M506.0 883.1h.01M500.1 885.3h.01M498.2 885.2h.01M490.7 880.3h.01M487.8 878.3h.01M483.4 876.4h.01M479.7 874.1h.01M478.7 871.7h.01M472.6 867.8h.01M468.4 866.8h.01M468.3 863.2h.01M467.2 860.8h.01M467.4 854.1h.01M466.9 848.9h.01M467.3 842.6h.01M485.0 885.0h.01M462.0 872.0h.01M456.6 865.6h.01M509.0 918.0h.01M509.0 922.4h.01M479.6 1029.2h.01M522.2 978.9h.01M532.4 1004.7h.01M530.9 1005.3h.01M527.6 992.3h.01M526.6 988.8h.01M531.2 997.1h.01M518.8 973.1h.01M528.1 996.2h.01M528.8 1009.5h.01M534.1 991.0h.01M535.2 992.5h.01M525.6 1002.9h.01M522.0 1018.3h.01M531.1 1010.3h.01M518.8 968.1h.01M522.6 1007.5h.01M522.1 1011.9h.01M530.8 1012.0h.01M520.8 974.9h.01M531.7 992.2h.01M531.6 1001.1h.01M525.8 992.5h.01M527.2 995.0h.01M525.6 1009.8h.01M526.8 1016.0h.01M519.3 1014.2h.01M526.7 1012.8h.01M525.1 1011.5h.01M523.0 1014.4h.01M520.2 970.0h.01M518.6 1016.4h.01M521.1 983.7h.01M518.1 1017.9h.01M521.4 987.1h.01M533.2 1002.7h.01M532.5 1006.4h.01M520.5 978.2h.01M528.8 1006.2h.01M529.3 988.8h.01M530.4 994.7h.01M518.7 967.6h.01M518.5 969.6h.01M520.4 972.4h.01M522.0 975.2h.01M525.1 980.5h.01M526.6 984.7h.01M530.7 987.8h.01M533.8 992.3h.01M534.5 994.0h.01M535.3 1001.7h.01M533.9 1007.7h.01M530.5 1012.1h.01M529.3 1014.6h.01M522.6 1017.7h.01M516.0 1018.3h.01M517.7 1019.0h.01M518.3 1014.4h.01M521.6 1008.6h.01M522.7 1007.4h.01M527.5 1002.8h.01M526.6 996.4h.01M522.0 991.6h.01M521.7 990.8h.01M519.6 986.0h.01M520.9 984.9h.01M520.3 976.9h.01M518.7 972.5h.01M517.3 968.2h.01M435.8 1046.7h.01M438.7 1044.4h.01M440.3 1043.2h.01M442.4 1041.4h.01M285.2 391.2h.01M288.2 394.2h.01" stroke="#D3D3D3"/>
<path d="M665.8 119.8h.01M666.7 127.7h.01M676.9 125.4h.01M681.0 120.2h.01M684.2 121.7h.01M689.6 123.8h.01M714.8 125.0h.01M665.2 140.2h.01M685.6 136.7h.01M690.0 141.7h.01M662.3 150.4h.01M678.5 152.1h.01M686.9 155.4h.01M692.9 152.5h.01M704.2 151.7h.01M720.8 146.7h.01M723.1 149.4h.01M730.4 152.1h.01M739.0 147.7h.01M706.9 159.2h.01M672.1 165.4h.01M676.7 166.5h.01M685.6 174.4h.01M730.0 165.0h.01M711.2 173.5h.01M706.9 175.6h.01M715.2 184.0h.01M709.6 192.1h.01M728.8 191.5h.01M755.0 203.5h.01M740.8 210.2h.01M753.5 223.8h.01M792.9 219.4h.01M810.8 227.7h.01M790.4 234.4h.01M732.9 238.5h.01M762.1 255.8h.01M677.3 247.9h.01M686.5 255.8h.01M711.7 270.4h.01M715.4 272.3h.01M821.0 285.4h.01M832.1 286.9h.01M835.6 286.9h.01M838.8 287.9h.01M832.1 292.1h.01M828.3 296.9h.01M825.8 299.4h.01M777.9 294.6h.01M804.2 312.3h.01M554.2 221.0h.01M543.8 226.0h.01M537.8 232.2h.01M567.5 226.7h.01M577.7 228.5h.01M580.2 230.3h.01M543.3 254.2h.01M570.5 245.5h.01M570.5 250.0h.01M492.5 346.3h.01M497.7 378.5h.01M390.5 395.0h.01M395.3 394.2h.01M397.8 392.2h.01M408.0 393.7h.01M440.3 414.7h.01M444.2 412.8h.01M459.2 414.8h.01M392.5 421.5h.01M393.3 430.0h.01M410.8 440.3h.01M465.8 448.8h.01M464.7 457.3h.01M480.0 455.5h.01M475.8 460.2h.01M483.3 460.5h.01M490.5 455.7h.01M462.8 471.0h.01M519.5 448.3h.01M524.2 444.2h.01M524.5 447.2h.01M485.6 503.0h.01M462.7 471.5h.01M476.1 531.4h.01M509.6 530.5h.01M500.3 544.2h.01M488.7 554.0h.01M421.1 552.5h.01M428.4 566.6h.01M426.2 569.9h.01M434.5 566.8h.01M447.7 569.2h.01M453.2 579.5h.01M429.7 580.9h.01M430.8 585.0h.01M454.4 586.8h.01M446.8 589.5h.01M444.0 591.4h.01M452.6 591.4h.01M476.4 591.7h.01M465.8 598.5h.01M508.2 564.0h.01M511.5 563.0h.01M511.8 566.2h.01M517.3 563.5h.01M508.7 572.1h.01M583.3 472.8h.01M561.9 499.7h.01M607.5 382.7h.01M590.0 388.8h.01M593.7 386.7h.01M595.8 385.8h.01M598.0 387.5h.01M594.2 390.8h.01M593.0 395.5h.01M596.3 395.0h.01M591.3 401.2h.01M597.8 400.0h.01M598.3 403.7h.01M601.7 404.7h.01M604.7 404.2h.01M591.7 407.8h.01M613.3 412.0h.01M633.3 423.7h.01M639.0 429.5h.01M650.7 433.8h.01M654.5 436.5h.01M608.7 435.3h.01M611.2 442.8h.01M633.7 443.0h.01M663.3 444.3h.01M674.5 438.5h.01M686.0 434.0h.01M703.3 445.0h.01M706.0 443.3h.01M690.5 451.7h.01M704.2 454.8h.01M567.5 462.3h.01M592.5 466.2h.01M583.2 472.8h.01M627.3 464.8h.01M198.0 500.7h.01M193.3 504.4h.01M197.3 506.7h.01M204.0 503.3h.01M210.0 505.6h.01M197.3 510.4h.01M193.3 514.3h.01M207.1 513.3h.01M212.7 511.3h.01M210.7 516.0h.01M215.3 516.0h.01M225.3 510.4h.01M235.3 509.7h.01M260.3 492.4h.01M184.0 519.3h.01M187.3 517.3h.01M189.7 520.7h.01M197.3 517.3h.01M200.0 520.0h.01M201.7 523.7h.01M172.7 522.0h.01M166.0 526.3h.01M170.0 528.0h.01M181.3 526.7h.01M180.0 529.3h.01M188.7 528.0h.01M186.0 530.4h.01M191.6 531.3h.01M196.4 529.6h.01M214.3 523.7h.01M221.6 527.3h.01M228.4 528.7h.01M244.9 524.9h.01M210.7 528.7h.01M208.0 533.3h.01M160.0 532.0h.01M169.7 533.3h.01M172.7 536.0h.01M176.0 537.3h.01M179.1 532.0h.01M187.3 537.1h.01M187.3 540.7h.01M164.4 538.3h.01M156.7 540.7h.01M157.7 544.7h.01M207.3 538.0h.01M199.3 539.3h.01M199.3 542.0h.01M202.7 543.3h.01M208.3 544.0h.01M219.6 543.7h.01M221.3 548.0h.01M229.3 550.3h.01M235.6 550.9h.01M180.0 543.3h.01M177.3 547.6h.01M184.4 548.4h.01M203.3 549.1h.01M201.3 552.0h.01M157.7 551.3h.01M152.9 553.7h.01M168.0 554.0h.01M168.0 556.0h.01M160.0 561.3h.01M166.3 562.9h.01M172.9 560.9h.01M184.4 562.9h.01M187.3 566.7h.01M193.6 568.0h.01M214.3 565.7h.01M228.0 570.4h.01M224.7 572.7h.01M224.0 574.4h.01M740.3 535.0h.01M743.5 543.5h.01M752.0 546.0h.01M752.0 553.0h.01M750.5 550.0h.01M741.0 555.3h.01M761.3 571.7h.01M750.5 570.8h.01M758.6 577.2h.01M713.8 587.0h.01M725.0 598.0h.01M755.0 584.5h.01M777.7 592.2h.01M947.0 661.2h.01M1024.2 681.7h.01M954.0 685.5h.01M974.3 688.3h.01M993.3 688.7h.01M996.7 690.3h.01M967.8 697.0h.01M1020.0 700.3h.01M893.3 705.0h.01M895.8 704.2h.01M897.2 707.5h.01M896.7 711.3h.01M945.5 710.0h.01M948.3 714.2h.01M900.5 717.5h.01M933.0 721.3h.01M925.0 723.5h.01M900.5 725.0h.01M906.2 726.7h.01M944.3 726.2h.01M966.3 724.2h.01M992.7 718.3h.01M989.3 724.7h.01M1035.3 721.2h.01M905.0 734.7h.01M914.5 739.7h.01M945.0 742.2h.01M963.3 736.3h.01M971.0 752.5h.01M927.8 761.3h.01M933.5 760.3h.01M970.8 763.7h.01M964.7 765.3h.01M977.0 765.5h.01M990.2 759.2h.01M1015.0 766.2h.01M906.9 548.5h.01M896.2 574.4h.01M895.0 579.3h.01M607.0 692.0h.01M620.0 690.0h.01M623.4 694.4h.01M615.6 700.0h.01M630.2 699.6h.01M551.4 768.4h.01M556.0 768.4h.01M559.0 771.0h.01M559.0 777.4h.01M567.0 777.2h.01M808.6 779.9h.01M806.0 790.4h.01M632.2 924.2h.01M713.7 844.7h.01M657.5 982.5h.01M345.0 720.8h.01M345.3 725.0h.01M357.0 732.8h.01M340.2 738.2h.01M345.8 757.7h.01M340.8 765.7h.01M329.5 767.2h.01M364.2 763.2h.01M340.0 776.2h.01M311.3 793.2h.01M346.2 793.2h.01M359.7 791.5h.01M367.3 790.5h.01M387.3 809.8h.01M340.3 805.5h.01M333.0 809.2h.01M343.5 811.2h.01M354.5 805.7h.01M358.7 806.0h.01M385.2 818.7h.01M318.5 820.0h.01M305.7 823.0h.01M345.3 822.5h.01M345.7 826.2h.01M355.5 824.3h.01M369.0 825.8h.01M374.3 829.3h.01M368.3 833.7h.01M318.0 829.5h.01M314.3 834.2h.01M350.0 832.7h.01M343.7 841.2h.01M309.3 842.8h.01M310.3 844.7h.01M315.0 848.5h.01M322.7 852.0h.01M362.0 850.5h.01M336.3 857.5h.01M338.3 859.7h.01M428.2 823.8h.01M448.8 850.3h.01M487.0 874.4h.01M511.6 935.4h.01M518.4 969.6h.01M520.0 973.0h.01M522.0 975.6h.01M522.6 980.0h.01M520.6 993.6h.01M522.4 996.4h.01M531.0 994.0h.01M532.6 1004.0h.01M521.0 1008.0h.01M520.0 1017.6h.01M524.0 1016.6h.01M862.6 363.6h.01" stroke="#B69CE3"/>
<path d="M717.1 170.0h.01M671.7 190.0h.01M757.1 199.6h.01M546.7 316.7h.01M450.5 413.3h.01M746.7 547.2h.01M746.3 552.0h.01M747.7 560.0h.01M762.2 568.2h.01M725.0 595.5h.01M772.5 583.7h.01M781.5 582.7h.01M758.0 586.0h.01M765.5 587.5h.01M762.0 593.0h.01M764.0 595.0h.01M744.5 600.5h.01M754.0 602.5h.01M764.0 600.0h.01M768.0 600.5h.01M771.0 600.5h.01M774.0 600.0h.01M766.0 597.0h.01M762.0 597.0h.01M372.5 849.2h.01" stroke="#AA89E7"/>
<path d="M684.6 140.4h.01M720.2 169.0h.01M755.0 195.8h.01M780.8 207.7h.01M821.2 217.1h.01M744.0 273.1h.01M745.8 271.7h.01M807.9 336.7h.01M550.0 224.2h.01M562.0 228.8h.01M561.3 234.2h.01M572.7 232.8h.01M538.7 247.0h.01M545.5 252.5h.01M452.8 411.5h.01M605.0 386.2h.01M610.8 410.0h.01M589.5 458.5h.01M182.7 513.6h.01M733.3 537.2h.01M766.2 582.5h.01M784.3 587.2h.01M749.7 591.7h.01M758.0 592.0h.01M1014.7 634.5h.01M1048.8 644.7h.01M1013.8 654.3h.01M999.7 664.5h.01M1008.0 663.8h.01M1016.7 675.0h.01M1022.7 673.2h.01M1010.3 677.5h.01M999.2 676.7h.01M1032.3 679.7h.01M970.7 680.8h.01M996.3 685.8h.01M975.2 695.8h.01M1012.7 700.7h.01M1048.7 695.5h.01M1058.0 695.8h.01M979.5 721.8h.01M940.5 731.5h.01M967.5 740.2h.01M993.0 733.2h.01M1005.3 737.5h.01M1017.5 733.5h.01M1034.7 737.0h.01M1028.5 743.3h.01M1036.2 743.8h.01M969.7 748.3h.01M1023.2 752.8h.01M949.2 756.7h.01M957.2 760.5h.01M969.2 759.7h.01M912.5 778.0h.01M917.7 778.7h.01M922.8 778.0h.01M927.5 784.3h.01M636.4 660.6h.01M622.4 678.0h.01M656.6 683.8h.01M733.8 719.4h.01M548.0 776.0h.01M551.6 774.0h.01M552.6 777.6h.01M562.4 776.2h.01M341.3 723.3h.01M335.0 727.7h.01M392.5 803.3h.01M529.6 1002.6h.01M525.4 1011.4h.01" stroke="#9D77EC"/>
<path d="M810.2 282.1h.01M431.2 409.3h.01M435.6 575.8h.01M617.2 440.5h.01M698.5 443.8h.01M1012.5 673.7h.01" stroke="#8E65F0"/>
<path d="M716.5 149.0h.01M380.3 412.2h.01M717.0 590.3h.01M728.0 596.0h.01M733.7 595.0h.01M749.0 599.0h.01M752.0 598.0h.01" stroke="#7C51F4"/>
<path d="M757.8 600.2h.01" stroke="#673DF8"/>
<path d="M773.0 592.0h.01" stroke="#4926FB"/>
<path d="M549.5 314.2h.01M196.3 555.2h.01M755.3 588.5h.01M769.3 595.2h.01" stroke="#2A10FD"/>
<path d="M731.8 599.3h.01" stroke="#0000FF"/>
</g>
<!-- axes -->
<g stroke="#000" stroke-width="2.9" fill="none">
<path d="M95.5 50.8V1120.8"/>
<path d="M94 1119.4H1117.8"/>
<path d="M141.2 1119v5.4M306.8 1119v5.4M472.4 1119v5.4M638 1119v5.4M803.6 1119v5.4M969.2 1119v5.4"/>
<path d="M90.4 277h5M90.4 571h5M90.4 865h5"/>
</g>
<g opacity="0.999">
<text x="605.6" y="36.7" font-size="34.5" font-weight="bold" text-anchor="middle">Hist1h4i</text>
<g font-size="30" text-anchor="middle">
<text x="141.2" y="1148">-15</text><text x="306.8" y="1148">-10</text><text x="472.4" y="1148">-5</text><text x="638" y="1148">0</text><text x="803.6" y="1148">5</text><text x="969.2" y="1148">10</text>
</g>
<g font-size="30" text-anchor="end">
<text x="88.3" y="287.8">10</text><text x="88.3" y="581.8">0</text><text x="88.3" y="875.8">-10</text>
</g>
<text x="604.7" y="1180.7" font-size="30.3" text-anchor="middle">umapNC_1</text>
<text transform="translate(34.2 585.7) rotate(-90)" font-size="30.3" text-anchor="middle">umapNC_2</text>
<!-- legend -->
<rect x="1130" y="547.5" width="15.5" height="76.5" fill="url(#cb)"/>
<g stroke="#fff" stroke-width="0.8" opacity="0.7"><path d="M1130 550.3h3M1142.5 550.3h3M1130 569.2h3M1142.5 569.2h3M1130 587.4h3M1142.5 587.4h3M1130 605.5h3M1142.5 605.5h3"/></g>
<g font-size="25.6">
<text x="1152.5" y="559.3">2.0</text><text x="1152.5" y="578">1.5</text><text x="1152.5" y="596.5">1.0</text><text x="1152.5" y="615">0.5</text><text x="1152.5" y="633.7">0.0</text>
</g>
</g>
</svg>
</body></html>
